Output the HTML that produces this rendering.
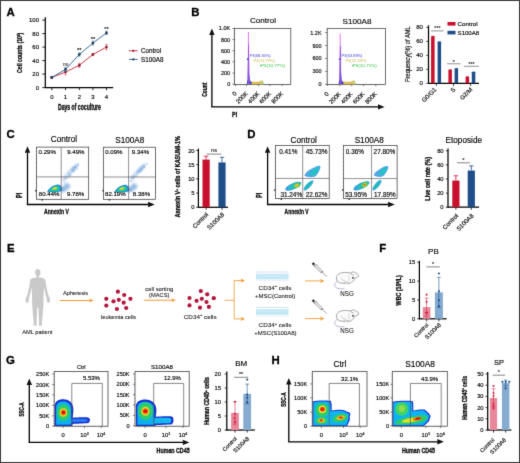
<!DOCTYPE html>
<html><head><meta charset="utf-8"><title>Figure</title>
<style>html,body{margin:0;padding:0;background:#fff;width:520px;height:463px;overflow:hidden}svg{display:block}text{font-family:"Liberation Sans",sans-serif}</style>
</head><body>
<svg width="520" height="463" viewBox="0 0 520 463" font-family="Liberation Sans, sans-serif"><defs><filter id="gblur" x="0" y="0" width="520" height="463" filterUnits="userSpaceOnUse" color-interpolation-filters="sRGB"><feConvolveMatrix order="3" kernelMatrix="1 8 1 8 64 8 1 8 1" edgeMode="duplicate" preserveAlpha="true"/></filter></defs><g filter="url(#gblur)"><rect x="0" y="0" width="520" height="463" fill="#fff"/><defs><filter id="bl1" x="-50%" y="-50%" width="200%" height="200%"><feGaussianBlur stdDeviation="1.2"/></filter><filter id="bl2" x="-50%" y="-50%" width="200%" height="200%"><feGaussianBlur stdDeviation="0.7"/></filter><filter id="bl3" x="-50%" y="-50%" width="200%" height="200%"><feGaussianBlur stdDeviation="0.9"/></filter><filter id="bl4" x="-50%" y="-50%" width="200%" height="200%"><feGaussianBlur stdDeviation="0.45"/></filter></defs>
<text x="6.60" y="15.60" font-size="11.4" text-anchor="start" font-weight="bold" fill="#000" stroke="#000" stroke-width="0.30" >A</text>
<text x="191.30" y="16.10" font-size="11.4" text-anchor="start" font-weight="bold" fill="#000" stroke="#000" stroke-width="0.30" >B</text>
<text x="6.40" y="137.70" font-size="11.4" text-anchor="start" font-weight="bold" fill="#000" stroke="#000" stroke-width="0.30" >C</text>
<text x="247.20" y="137.60" font-size="11.4" text-anchor="start" font-weight="bold" fill="#000" stroke="#000" stroke-width="0.30" >D</text>
<text x="7.10" y="252.00" font-size="11.4" text-anchor="start" font-weight="bold" fill="#000" stroke="#000" stroke-width="0.30" >E</text>
<text x="379.30" y="252.00" font-size="11.4" text-anchor="start" font-weight="bold" fill="#000" stroke="#000" stroke-width="0.30" >F</text>
<text x="6.10" y="363.90" font-size="11.4" text-anchor="start" font-weight="bold" fill="#000" stroke="#000" stroke-width="0.30" >G</text>
<text x="271.60" y="363.50" font-size="11.4" text-anchor="start" font-weight="bold" fill="#000" stroke="#000" stroke-width="0.30" >H</text>
<line x1="45.30" y1="17.20" x2="45.30" y2="88.10" stroke="#000" stroke-width="1.25" />
<line x1="44.80" y1="87.60" x2="113.20" y2="87.60" stroke="#000" stroke-width="1.25" />
<line x1="42.30" y1="87.60" x2="45.30" y2="87.60" stroke="#111" stroke-width="0.9" />
<text x="39.00" y="89.70" font-size="6.0" text-anchor="end" fill="#0a0a0a" stroke="#0a0a0a" stroke-width="0.16" >0</text>
<line x1="42.30" y1="74.10" x2="45.30" y2="74.10" stroke="#111" stroke-width="0.9" />
<text x="39.00" y="76.20" font-size="6.0" text-anchor="end" fill="#0a0a0a" stroke="#0a0a0a" stroke-width="0.16" >20</text>
<line x1="42.30" y1="60.60" x2="45.30" y2="60.60" stroke="#111" stroke-width="0.9" />
<text x="39.00" y="62.70" font-size="6.0" text-anchor="end" fill="#0a0a0a" stroke="#0a0a0a" stroke-width="0.16" >40</text>
<line x1="42.30" y1="47.10" x2="45.30" y2="47.10" stroke="#111" stroke-width="0.9" />
<text x="39.00" y="49.20" font-size="6.0" text-anchor="end" fill="#0a0a0a" stroke="#0a0a0a" stroke-width="0.16" >60</text>
<line x1="42.30" y1="33.60" x2="45.30" y2="33.60" stroke="#111" stroke-width="0.9" />
<text x="39.00" y="35.70" font-size="6.0" text-anchor="end" fill="#0a0a0a" stroke="#0a0a0a" stroke-width="0.16" >80</text>
<line x1="42.30" y1="20.10" x2="45.30" y2="20.10" stroke="#111" stroke-width="0.9" />
<text x="39.00" y="22.20" font-size="6.0" text-anchor="end" fill="#0a0a0a" stroke="#0a0a0a" stroke-width="0.16" >100</text>
<line x1="51.80" y1="87.60" x2="51.80" y2="90.20" stroke="#111" stroke-width="0.9" />
<text x="51.80" y="99.10" font-size="6.0" text-anchor="middle" fill="#0a0a0a" stroke="#0a0a0a" stroke-width="0.16" >0</text>
<line x1="65.50" y1="87.60" x2="65.50" y2="90.20" stroke="#111" stroke-width="0.9" />
<text x="65.50" y="99.10" font-size="6.0" text-anchor="middle" fill="#0a0a0a" stroke="#0a0a0a" stroke-width="0.16" >1</text>
<line x1="79.30" y1="87.60" x2="79.30" y2="90.20" stroke="#111" stroke-width="0.9" />
<text x="79.30" y="99.10" font-size="6.0" text-anchor="middle" fill="#0a0a0a" stroke="#0a0a0a" stroke-width="0.16" >2</text>
<line x1="92.90" y1="87.60" x2="92.90" y2="90.20" stroke="#111" stroke-width="0.9" />
<text x="92.90" y="99.10" font-size="6.0" text-anchor="middle" fill="#0a0a0a" stroke="#0a0a0a" stroke-width="0.16" >3</text>
<line x1="106.50" y1="87.60" x2="106.50" y2="90.20" stroke="#111" stroke-width="0.9" />
<text x="106.50" y="99.10" font-size="6.0" text-anchor="middle" fill="#0a0a0a" stroke="#0a0a0a" stroke-width="0.16" >4</text>
<text x="0.00" y="0.00" font-size="8.2" text-anchor="middle" font-weight="bold" fill="#0a0a0a" stroke="#0a0a0a" stroke-width="0.32" transform="translate(79.40 110.10) scale(0.625 1)" >Days of coculture</text>
<text x="0.00" y="0.00" font-size="7.4" text-anchor="middle" font-weight="bold" fill="#0a0a0a" stroke="#0a0a0a" stroke-width="0.32" transform="translate(22.30 52.80) rotate(-90) scale(0.701 1)" >Cell counts (10<tspan font-size="4.2" dy="-2.6">5</tspan><tspan dy="2.6">)</tspan></text>
<polyline points="51.80,77.47 65.50,72.07 79.30,65.32 92.90,54.52 106.50,47.10" fill="none" stroke="#d2394d" stroke-width="1.0"/>
<line x1="51.80" y1="76.80" x2="51.80" y2="78.15" stroke="#d2394d" stroke-width="0.6" />
<line x1="50.60" y1="76.80" x2="53.00" y2="76.80" stroke="#d2394d" stroke-width="0.6" />
<line x1="50.60" y1="78.15" x2="53.00" y2="78.15" stroke="#d2394d" stroke-width="0.6" />
<circle cx="51.80" cy="77.47" r="1.35" fill="#8c1a2b" />
<line x1="65.50" y1="69.37" x2="65.50" y2="74.77" stroke="#d2394d" stroke-width="0.6" />
<line x1="64.30" y1="69.37" x2="66.70" y2="69.37" stroke="#d2394d" stroke-width="0.6" />
<line x1="64.30" y1="74.77" x2="66.70" y2="74.77" stroke="#d2394d" stroke-width="0.6" />
<circle cx="65.50" cy="72.07" r="1.35" fill="#8c1a2b" />
<line x1="79.30" y1="63.30" x2="79.30" y2="67.35" stroke="#d2394d" stroke-width="0.6" />
<line x1="78.10" y1="63.30" x2="80.50" y2="63.30" stroke="#d2394d" stroke-width="0.6" />
<line x1="78.10" y1="67.35" x2="80.50" y2="67.35" stroke="#d2394d" stroke-width="0.6" />
<circle cx="79.30" cy="65.32" r="1.35" fill="#8c1a2b" />
<line x1="92.90" y1="53.51" x2="92.90" y2="55.54" stroke="#d2394d" stroke-width="0.6" />
<line x1="91.70" y1="53.51" x2="94.10" y2="53.51" stroke="#d2394d" stroke-width="0.6" />
<line x1="91.70" y1="55.54" x2="94.10" y2="55.54" stroke="#d2394d" stroke-width="0.6" />
<circle cx="92.90" cy="54.52" r="1.35" fill="#8c1a2b" />
<line x1="106.50" y1="44.40" x2="106.50" y2="49.80" stroke="#d2394d" stroke-width="0.6" />
<line x1="105.30" y1="44.40" x2="107.70" y2="44.40" stroke="#d2394d" stroke-width="0.6" />
<line x1="105.30" y1="49.80" x2="107.70" y2="49.80" stroke="#d2394d" stroke-width="0.6" />
<circle cx="106.50" cy="47.10" r="1.35" fill="#8c1a2b" />
<polyline points="51.80,77.47 65.50,69.38 79.30,54.52 92.90,43.05 106.50,32.92" fill="none" stroke="#3b6e99" stroke-width="1.0"/>
<line x1="51.80" y1="76.80" x2="51.80" y2="78.15" stroke="#3b6e99" stroke-width="0.6" />
<line x1="50.60" y1="76.80" x2="53.00" y2="76.80" stroke="#3b6e99" stroke-width="0.6" />
<line x1="50.60" y1="78.15" x2="53.00" y2="78.15" stroke="#3b6e99" stroke-width="0.6" />
<circle cx="51.80" cy="77.47" r="1.35" fill="#1d3b58" />
<line x1="65.50" y1="67.35" x2="65.50" y2="71.40" stroke="#3b6e99" stroke-width="0.6" />
<line x1="64.30" y1="67.35" x2="66.70" y2="67.35" stroke="#3b6e99" stroke-width="0.6" />
<line x1="64.30" y1="71.40" x2="66.70" y2="71.40" stroke="#3b6e99" stroke-width="0.6" />
<circle cx="65.50" cy="69.38" r="1.35" fill="#1d3b58" />
<line x1="79.30" y1="52.84" x2="79.30" y2="56.21" stroke="#3b6e99" stroke-width="0.6" />
<line x1="78.10" y1="52.84" x2="80.50" y2="52.84" stroke="#3b6e99" stroke-width="0.6" />
<line x1="78.10" y1="56.21" x2="80.50" y2="56.21" stroke="#3b6e99" stroke-width="0.6" />
<circle cx="79.30" cy="54.52" r="1.35" fill="#1d3b58" />
<line x1="92.90" y1="41.02" x2="92.90" y2="45.07" stroke="#3b6e99" stroke-width="0.6" />
<line x1="91.70" y1="41.02" x2="94.10" y2="41.02" stroke="#3b6e99" stroke-width="0.6" />
<line x1="91.70" y1="45.07" x2="94.10" y2="45.07" stroke="#3b6e99" stroke-width="0.6" />
<circle cx="92.90" cy="43.05" r="1.35" fill="#1d3b58" />
<line x1="106.50" y1="31.24" x2="106.50" y2="34.61" stroke="#3b6e99" stroke-width="0.6" />
<line x1="105.30" y1="31.24" x2="107.70" y2="31.24" stroke="#3b6e99" stroke-width="0.6" />
<line x1="105.30" y1="34.61" x2="107.70" y2="34.61" stroke="#3b6e99" stroke-width="0.6" />
<circle cx="106.50" cy="32.92" r="1.35" fill="#1d3b58" />
<text x="65.50" y="66.00" font-size="5.4" text-anchor="middle" fill="#555" stroke="#555" stroke-width="0.16" >ns</text>
<text x="79.30" y="52.20" font-size="5.8" text-anchor="middle" fill="#222" stroke="#222" stroke-width="0.16" >**</text>
<text x="92.90" y="41.40" font-size="5.8" text-anchor="middle" fill="#222" stroke="#222" stroke-width="0.16" >**</text>
<text x="106.50" y="31.20" font-size="5.8" text-anchor="middle" fill="#222" stroke="#222" stroke-width="0.16" >**</text>
<line x1="129.00" y1="50.80" x2="137.70" y2="50.80" stroke="#d2394d" stroke-width="1.0" />
<circle cx="133.30" cy="50.80" r="1.1" fill="#8c1a2b" />
<line x1="129.00" y1="59.40" x2="137.70" y2="59.40" stroke="#3b6e99" stroke-width="1.0" />
<circle cx="133.30" cy="59.40" r="1.1" fill="#1d3b58" />
<text x="0.00" y="0.00" font-size="6.8" text-anchor="start" fill="#0a0a0a" stroke="#0a0a0a" stroke-width="0.16" transform="translate(141.00 53.20) scale(0.922 1)" >Control</text>
<text x="0.00" y="0.00" font-size="6.8" text-anchor="start" fill="#0a0a0a" stroke="#0a0a0a" stroke-width="0.16" transform="translate(141.00 61.80) scale(0.926 1)" >S100A8</text>
<rect x="234.60" y="28.40" width="56.20" height="56.00" fill="none" stroke="#333" stroke-width="0.7" />
<text x="263.00" y="23.30" font-size="8.1" text-anchor="middle" fill="#0a0a0a" stroke="#0a0a0a" stroke-width="0.16" >Control</text>
<line x1="232.40" y1="84.20" x2="234.60" y2="84.20" stroke="#333" stroke-width="0.6" />
<text x="230.20" y="86.20" font-size="5.5" text-anchor="end" fill="#0a0a0a" stroke="#0a0a0a" stroke-width="0.16" >0</text>
<line x1="232.40" y1="73.05" x2="234.60" y2="73.05" stroke="#333" stroke-width="0.6" />
<text x="230.20" y="75.05" font-size="5.5" text-anchor="end" fill="#0a0a0a" stroke="#0a0a0a" stroke-width="0.16" >200</text>
<line x1="232.40" y1="61.90" x2="234.60" y2="61.90" stroke="#333" stroke-width="0.6" />
<text x="230.20" y="63.90" font-size="5.5" text-anchor="end" fill="#0a0a0a" stroke="#0a0a0a" stroke-width="0.16" >400</text>
<line x1="232.40" y1="50.75" x2="234.60" y2="50.75" stroke="#333" stroke-width="0.6" />
<text x="230.20" y="52.75" font-size="5.5" text-anchor="end" fill="#0a0a0a" stroke="#0a0a0a" stroke-width="0.16" >600</text>
<line x1="232.40" y1="39.60" x2="234.60" y2="39.60" stroke="#333" stroke-width="0.6" />
<text x="230.20" y="41.60" font-size="5.5" text-anchor="end" fill="#0a0a0a" stroke="#0a0a0a" stroke-width="0.16" >800</text>
<line x1="232.40" y1="28.45" x2="234.60" y2="28.45" stroke="#333" stroke-width="0.6" />
<text x="230.20" y="30.45" font-size="5.5" text-anchor="end" fill="#0a0a0a" stroke="#0a0a0a" stroke-width="0.16" >1.0K</text>
<line x1="233.50" y1="84.20" x2="234.60" y2="84.20" stroke="#555" stroke-width="0.35" />
<line x1="233.50" y1="81.97" x2="234.60" y2="81.97" stroke="#555" stroke-width="0.35" />
<line x1="233.50" y1="79.74" x2="234.60" y2="79.74" stroke="#555" stroke-width="0.35" />
<line x1="233.50" y1="77.51" x2="234.60" y2="77.51" stroke="#555" stroke-width="0.35" />
<line x1="233.50" y1="75.28" x2="234.60" y2="75.28" stroke="#555" stroke-width="0.35" />
<line x1="233.50" y1="73.05" x2="234.60" y2="73.05" stroke="#555" stroke-width="0.35" />
<line x1="233.50" y1="70.82" x2="234.60" y2="70.82" stroke="#555" stroke-width="0.35" />
<line x1="233.50" y1="68.59" x2="234.60" y2="68.59" stroke="#555" stroke-width="0.35" />
<line x1="233.50" y1="66.36" x2="234.60" y2="66.36" stroke="#555" stroke-width="0.35" />
<line x1="233.50" y1="64.13" x2="234.60" y2="64.13" stroke="#555" stroke-width="0.35" />
<line x1="233.50" y1="61.90" x2="234.60" y2="61.90" stroke="#555" stroke-width="0.35" />
<line x1="233.50" y1="59.67" x2="234.60" y2="59.67" stroke="#555" stroke-width="0.35" />
<line x1="233.50" y1="57.44" x2="234.60" y2="57.44" stroke="#555" stroke-width="0.35" />
<line x1="233.50" y1="55.21" x2="234.60" y2="55.21" stroke="#555" stroke-width="0.35" />
<line x1="233.50" y1="52.98" x2="234.60" y2="52.98" stroke="#555" stroke-width="0.35" />
<line x1="233.50" y1="50.75" x2="234.60" y2="50.75" stroke="#555" stroke-width="0.35" />
<line x1="233.50" y1="48.52" x2="234.60" y2="48.52" stroke="#555" stroke-width="0.35" />
<line x1="233.50" y1="46.29" x2="234.60" y2="46.29" stroke="#555" stroke-width="0.35" />
<line x1="233.50" y1="44.06" x2="234.60" y2="44.06" stroke="#555" stroke-width="0.35" />
<line x1="233.50" y1="41.83" x2="234.60" y2="41.83" stroke="#555" stroke-width="0.35" />
<line x1="233.50" y1="39.60" x2="234.60" y2="39.60" stroke="#555" stroke-width="0.35" />
<line x1="233.50" y1="37.37" x2="234.60" y2="37.37" stroke="#555" stroke-width="0.35" />
<line x1="233.50" y1="35.14" x2="234.60" y2="35.14" stroke="#555" stroke-width="0.35" />
<line x1="233.50" y1="32.91" x2="234.60" y2="32.91" stroke="#555" stroke-width="0.35" />
<line x1="233.50" y1="30.68" x2="234.60" y2="30.68" stroke="#555" stroke-width="0.35" />
<line x1="233.50" y1="28.45" x2="234.60" y2="28.45" stroke="#555" stroke-width="0.35" />
<line x1="235.60" y1="84.40" x2="235.60" y2="86.20" stroke="#333" stroke-width="0.6" />
<text x="0.00" y="0.00" font-size="6.0" text-anchor="end" fill="#0a0a0a" stroke="#0a0a0a" stroke-width="0.16" transform="translate(237.20 94.00) rotate(-45)" >0</text>
<line x1="246.70" y1="84.40" x2="246.70" y2="86.20" stroke="#333" stroke-width="0.6" />
<text x="0.00" y="0.00" font-size="6.0" text-anchor="end" fill="#0a0a0a" stroke="#0a0a0a" stroke-width="0.16" transform="translate(248.30 94.00) rotate(-45)" >200K</text>
<line x1="258.60" y1="84.40" x2="258.60" y2="86.20" stroke="#333" stroke-width="0.6" />
<text x="0.00" y="0.00" font-size="6.0" text-anchor="end" fill="#0a0a0a" stroke="#0a0a0a" stroke-width="0.16" transform="translate(260.20 94.00) rotate(-45)" >400K</text>
<line x1="270.00" y1="84.40" x2="270.00" y2="86.20" stroke="#333" stroke-width="0.6" />
<text x="0.00" y="0.00" font-size="6.0" text-anchor="end" fill="#0a0a0a" stroke="#0a0a0a" stroke-width="0.16" transform="translate(271.60 94.00) rotate(-45)" >600K</text>
<line x1="282.00" y1="84.40" x2="282.00" y2="86.20" stroke="#333" stroke-width="0.6" />
<text x="0.00" y="0.00" font-size="6.0" text-anchor="end" fill="#0a0a0a" stroke="#0a0a0a" stroke-width="0.16" transform="translate(283.60 94.00) rotate(-45)" >800K</text>
<line x1="234.60" y1="84.40" x2="234.60" y2="85.30" stroke="#555" stroke-width="0.35" />
<line x1="236.55" y1="84.40" x2="236.55" y2="85.30" stroke="#555" stroke-width="0.35" />
<line x1="238.50" y1="84.40" x2="238.50" y2="85.30" stroke="#555" stroke-width="0.35" />
<line x1="240.45" y1="84.40" x2="240.45" y2="85.30" stroke="#555" stroke-width="0.35" />
<line x1="242.40" y1="84.40" x2="242.40" y2="85.30" stroke="#555" stroke-width="0.35" />
<line x1="244.35" y1="84.40" x2="244.35" y2="85.30" stroke="#555" stroke-width="0.35" />
<line x1="246.30" y1="84.40" x2="246.30" y2="85.30" stroke="#555" stroke-width="0.35" />
<line x1="248.25" y1="84.40" x2="248.25" y2="85.30" stroke="#555" stroke-width="0.35" />
<line x1="250.20" y1="84.40" x2="250.20" y2="85.30" stroke="#555" stroke-width="0.35" />
<line x1="252.15" y1="84.40" x2="252.15" y2="85.30" stroke="#555" stroke-width="0.35" />
<line x1="254.10" y1="84.40" x2="254.10" y2="85.30" stroke="#555" stroke-width="0.35" />
<line x1="256.05" y1="84.40" x2="256.05" y2="85.30" stroke="#555" stroke-width="0.35" />
<line x1="258.00" y1="84.40" x2="258.00" y2="85.30" stroke="#555" stroke-width="0.35" />
<line x1="259.95" y1="84.40" x2="259.95" y2="85.30" stroke="#555" stroke-width="0.35" />
<line x1="261.90" y1="84.40" x2="261.90" y2="85.30" stroke="#555" stroke-width="0.35" />
<line x1="263.85" y1="84.40" x2="263.85" y2="85.30" stroke="#555" stroke-width="0.35" />
<line x1="265.80" y1="84.40" x2="265.80" y2="85.30" stroke="#555" stroke-width="0.35" />
<line x1="267.75" y1="84.40" x2="267.75" y2="85.30" stroke="#555" stroke-width="0.35" />
<line x1="269.70" y1="84.40" x2="269.70" y2="85.30" stroke="#555" stroke-width="0.35" />
<line x1="271.65" y1="84.40" x2="271.65" y2="85.30" stroke="#555" stroke-width="0.35" />
<line x1="273.60" y1="84.40" x2="273.60" y2="85.30" stroke="#555" stroke-width="0.35" />
<line x1="275.55" y1="84.40" x2="275.55" y2="85.30" stroke="#555" stroke-width="0.35" />
<line x1="277.50" y1="84.40" x2="277.50" y2="85.30" stroke="#555" stroke-width="0.35" />
<line x1="279.45" y1="84.40" x2="279.45" y2="85.30" stroke="#555" stroke-width="0.35" />
<line x1="281.40" y1="84.40" x2="281.40" y2="85.30" stroke="#555" stroke-width="0.35" />
<line x1="283.35" y1="84.40" x2="283.35" y2="85.30" stroke="#555" stroke-width="0.35" />
<line x1="285.30" y1="84.40" x2="285.30" y2="85.30" stroke="#555" stroke-width="0.35" />
<line x1="287.25" y1="84.40" x2="287.25" y2="85.30" stroke="#555" stroke-width="0.35" />
<line x1="289.20" y1="84.40" x2="289.20" y2="85.30" stroke="#555" stroke-width="0.35" />
<rect x="327.20" y="28.40" width="58.20" height="56.00" fill="none" stroke="#333" stroke-width="0.7" />
<text x="357.00" y="23.50" font-size="8.1" text-anchor="middle" fill="#0a0a0a" stroke="#0a0a0a" stroke-width="0.16" >S100A8</text>
<line x1="325.00" y1="84.20" x2="327.20" y2="84.20" stroke="#333" stroke-width="0.6" />
<text x="321.60" y="86.20" font-size="5.5" text-anchor="end" fill="#0a0a0a" stroke="#0a0a0a" stroke-width="0.16" >0</text>
<line x1="325.00" y1="71.30" x2="327.20" y2="71.30" stroke="#333" stroke-width="0.6" />
<text x="321.60" y="73.30" font-size="5.5" text-anchor="end" fill="#0a0a0a" stroke="#0a0a0a" stroke-width="0.16" >300</text>
<line x1="325.00" y1="58.40" x2="327.20" y2="58.40" stroke="#333" stroke-width="0.6" />
<text x="321.60" y="60.40" font-size="5.5" text-anchor="end" fill="#0a0a0a" stroke="#0a0a0a" stroke-width="0.16" >600</text>
<line x1="325.00" y1="45.50" x2="327.20" y2="45.50" stroke="#333" stroke-width="0.6" />
<text x="321.60" y="47.50" font-size="5.5" text-anchor="end" fill="#0a0a0a" stroke="#0a0a0a" stroke-width="0.16" >900</text>
<line x1="325.00" y1="32.60" x2="327.20" y2="32.60" stroke="#333" stroke-width="0.6" />
<text x="321.60" y="34.60" font-size="5.5" text-anchor="end" fill="#0a0a0a" stroke="#0a0a0a" stroke-width="0.16" >1.2K</text>
<line x1="326.10" y1="84.20" x2="327.20" y2="84.20" stroke="#555" stroke-width="0.35" />
<line x1="326.10" y1="81.62" x2="327.20" y2="81.62" stroke="#555" stroke-width="0.35" />
<line x1="326.10" y1="79.04" x2="327.20" y2="79.04" stroke="#555" stroke-width="0.35" />
<line x1="326.10" y1="76.46" x2="327.20" y2="76.46" stroke="#555" stroke-width="0.35" />
<line x1="326.10" y1="73.88" x2="327.20" y2="73.88" stroke="#555" stroke-width="0.35" />
<line x1="326.10" y1="71.30" x2="327.20" y2="71.30" stroke="#555" stroke-width="0.35" />
<line x1="326.10" y1="68.72" x2="327.20" y2="68.72" stroke="#555" stroke-width="0.35" />
<line x1="326.10" y1="66.14" x2="327.20" y2="66.14" stroke="#555" stroke-width="0.35" />
<line x1="326.10" y1="63.56" x2="327.20" y2="63.56" stroke="#555" stroke-width="0.35" />
<line x1="326.10" y1="60.98" x2="327.20" y2="60.98" stroke="#555" stroke-width="0.35" />
<line x1="326.10" y1="58.40" x2="327.20" y2="58.40" stroke="#555" stroke-width="0.35" />
<line x1="326.10" y1="55.82" x2="327.20" y2="55.82" stroke="#555" stroke-width="0.35" />
<line x1="326.10" y1="53.24" x2="327.20" y2="53.24" stroke="#555" stroke-width="0.35" />
<line x1="326.10" y1="50.66" x2="327.20" y2="50.66" stroke="#555" stroke-width="0.35" />
<line x1="326.10" y1="48.08" x2="327.20" y2="48.08" stroke="#555" stroke-width="0.35" />
<line x1="326.10" y1="45.50" x2="327.20" y2="45.50" stroke="#555" stroke-width="0.35" />
<line x1="326.10" y1="42.92" x2="327.20" y2="42.92" stroke="#555" stroke-width="0.35" />
<line x1="326.10" y1="40.34" x2="327.20" y2="40.34" stroke="#555" stroke-width="0.35" />
<line x1="326.10" y1="37.76" x2="327.20" y2="37.76" stroke="#555" stroke-width="0.35" />
<line x1="326.10" y1="35.18" x2="327.20" y2="35.18" stroke="#555" stroke-width="0.35" />
<line x1="326.10" y1="32.60" x2="327.20" y2="32.60" stroke="#555" stroke-width="0.35" />
<line x1="326.10" y1="30.02" x2="327.20" y2="30.02" stroke="#555" stroke-width="0.35" />
<line x1="327.40" y1="84.40" x2="327.40" y2="86.20" stroke="#333" stroke-width="0.6" />
<text x="0.00" y="0.00" font-size="6.0" text-anchor="end" fill="#0a0a0a" stroke="#0a0a0a" stroke-width="0.16" transform="translate(329.00 94.40) rotate(-45)" >0</text>
<line x1="339.80" y1="84.40" x2="339.80" y2="86.20" stroke="#333" stroke-width="0.6" />
<text x="0.00" y="0.00" font-size="6.0" text-anchor="end" fill="#0a0a0a" stroke="#0a0a0a" stroke-width="0.16" transform="translate(341.40 94.40) rotate(-45)" >200K</text>
<line x1="351.60" y1="84.40" x2="351.60" y2="86.20" stroke="#333" stroke-width="0.6" />
<text x="0.00" y="0.00" font-size="6.0" text-anchor="end" fill="#0a0a0a" stroke="#0a0a0a" stroke-width="0.16" transform="translate(353.20 94.40) rotate(-45)" >400K</text>
<line x1="363.60" y1="84.40" x2="363.60" y2="86.20" stroke="#333" stroke-width="0.6" />
<text x="0.00" y="0.00" font-size="6.0" text-anchor="end" fill="#0a0a0a" stroke="#0a0a0a" stroke-width="0.16" transform="translate(365.20 94.40) rotate(-45)" >600K</text>
<line x1="375.80" y1="84.40" x2="375.80" y2="86.20" stroke="#333" stroke-width="0.6" />
<text x="0.00" y="0.00" font-size="6.0" text-anchor="end" fill="#0a0a0a" stroke="#0a0a0a" stroke-width="0.16" transform="translate(377.40 94.40) rotate(-45)" >800K</text>
<line x1="327.20" y1="84.40" x2="327.20" y2="85.30" stroke="#555" stroke-width="0.35" />
<line x1="329.15" y1="84.40" x2="329.15" y2="85.30" stroke="#555" stroke-width="0.35" />
<line x1="331.10" y1="84.40" x2="331.10" y2="85.30" stroke="#555" stroke-width="0.35" />
<line x1="333.05" y1="84.40" x2="333.05" y2="85.30" stroke="#555" stroke-width="0.35" />
<line x1="335.00" y1="84.40" x2="335.00" y2="85.30" stroke="#555" stroke-width="0.35" />
<line x1="336.95" y1="84.40" x2="336.95" y2="85.30" stroke="#555" stroke-width="0.35" />
<line x1="338.90" y1="84.40" x2="338.90" y2="85.30" stroke="#555" stroke-width="0.35" />
<line x1="340.85" y1="84.40" x2="340.85" y2="85.30" stroke="#555" stroke-width="0.35" />
<line x1="342.80" y1="84.40" x2="342.80" y2="85.30" stroke="#555" stroke-width="0.35" />
<line x1="344.75" y1="84.40" x2="344.75" y2="85.30" stroke="#555" stroke-width="0.35" />
<line x1="346.70" y1="84.40" x2="346.70" y2="85.30" stroke="#555" stroke-width="0.35" />
<line x1="348.65" y1="84.40" x2="348.65" y2="85.30" stroke="#555" stroke-width="0.35" />
<line x1="350.60" y1="84.40" x2="350.60" y2="85.30" stroke="#555" stroke-width="0.35" />
<line x1="352.55" y1="84.40" x2="352.55" y2="85.30" stroke="#555" stroke-width="0.35" />
<line x1="354.50" y1="84.40" x2="354.50" y2="85.30" stroke="#555" stroke-width="0.35" />
<line x1="356.45" y1="84.40" x2="356.45" y2="85.30" stroke="#555" stroke-width="0.35" />
<line x1="358.40" y1="84.40" x2="358.40" y2="85.30" stroke="#555" stroke-width="0.35" />
<line x1="360.35" y1="84.40" x2="360.35" y2="85.30" stroke="#555" stroke-width="0.35" />
<line x1="362.30" y1="84.40" x2="362.30" y2="85.30" stroke="#555" stroke-width="0.35" />
<line x1="364.25" y1="84.40" x2="364.25" y2="85.30" stroke="#555" stroke-width="0.35" />
<line x1="366.20" y1="84.40" x2="366.20" y2="85.30" stroke="#555" stroke-width="0.35" />
<line x1="368.15" y1="84.40" x2="368.15" y2="85.30" stroke="#555" stroke-width="0.35" />
<line x1="370.10" y1="84.40" x2="370.10" y2="85.30" stroke="#555" stroke-width="0.35" />
<line x1="372.05" y1="84.40" x2="372.05" y2="85.30" stroke="#555" stroke-width="0.35" />
<line x1="374.00" y1="84.40" x2="374.00" y2="85.30" stroke="#555" stroke-width="0.35" />
<line x1="375.95" y1="84.40" x2="375.95" y2="85.30" stroke="#555" stroke-width="0.35" />
<line x1="377.90" y1="84.40" x2="377.90" y2="85.30" stroke="#555" stroke-width="0.35" />
<line x1="379.85" y1="84.40" x2="379.85" y2="85.30" stroke="#555" stroke-width="0.35" />
<line x1="381.80" y1="84.40" x2="381.80" y2="85.30" stroke="#555" stroke-width="0.35" />
<line x1="383.75" y1="84.40" x2="383.75" y2="85.30" stroke="#555" stroke-width="0.35" />
<path d="M247.20000000000002,84.2 L248.0,80.60000000000001 L250.4,81.4 L254.4,82.2 L258.4,82.0 L260.9,81.2 L262.4,80.60000000000001 L263.4,83.0 L263.9,84.2 Z" fill="#e4c458" stroke="#b89a30" stroke-width="0.4"/>
<path d="M261.0,84.2 L262.4,80.4 L263.6,84.2 Z" fill="#a8d890"/>
<path d="M246.8,84.2 L247.5,79.2 L247.9,58.5 L248.20000000000002,44.5 L248.9,44.5 L249.3,72.2 L250.0,80.2 L251.4,82.60000000000001 L251.9,84.2 Z" fill="#3c3cd8"/>
<line x1="248.40" y1="84.20" x2="248.40" y2="31.90" stroke="#d050e0" stroke-width="0.8" />
<line x1="249.30" y1="84.20" x2="249.30" y2="41.90" stroke="#c8b0f0" stroke-width="0.5" opacity="0.6"/>
<path d="M339.0,84.2 L339.8,80.60000000000001 L342.2,81.4 L346.2,82.2 L350.2,82.0 L352.7,81.2 L354.2,80.60000000000001 L355.2,83.0 L355.7,84.2 Z" fill="#e4c458" stroke="#b89a30" stroke-width="0.4"/>
<path d="M352.8,84.2 L354.2,80.4 L355.4,84.2 Z" fill="#a8d890"/>
<path d="M338.59999999999997,84.2 L339.3,79.2 L339.7,60 L340.0,46 L340.7,46 L341.09999999999997,72.2 L341.8,80.2 L343.2,82.60000000000001 L343.7,84.2 Z" fill="#3c3cd8"/>
<line x1="340.20" y1="84.20" x2="340.20" y2="33.80" stroke="#d050e0" stroke-width="0.8" />
<line x1="341.10" y1="84.20" x2="341.10" y2="43.80" stroke="#c8b0f0" stroke-width="0.5" opacity="0.6"/>
<circle cx="247.80" cy="59.20" r="0.9" fill="#4a4ae0" />
<text x="0.00" y="0.00" font-size="4.2" text-anchor="start" fill="#3a3ae0" stroke="#3a3ae0" stroke-width="0.00" transform="translate(249.70 57.20) scale(0.947 1)" >P3(68.55%)</text>
<text x="0.00" y="0.00" font-size="4.2" text-anchor="start" fill="#c8b848" stroke="#c8b848" stroke-width="0.00" transform="translate(253.60 61.90) scale(0.970 1)" >P4(11.79%)</text>
<circle cx="260.60" cy="65.60" r="0.7" fill="#40c040" />
<text x="0.00" y="0.00" font-size="4.2" text-anchor="start" fill="#30c040" stroke="#30c040" stroke-width="0.00" transform="translate(261.00 66.60) scale(1.082 1)" >P5(10.77%)</text>
<circle cx="339.60" cy="59.20" r="0.9" fill="#4a4ae0" />
<text x="0.00" y="0.00" font-size="4.2" text-anchor="start" fill="#3a3ae0" stroke="#3a3ae0" stroke-width="0.00" transform="translate(341.50 57.20) scale(0.947 1)" >P3(63.89%)</text>
<text x="0.00" y="0.00" font-size="4.2" text-anchor="start" fill="#c8b848" stroke="#c8b848" stroke-width="0.00" transform="translate(345.40 61.90) scale(0.956 1)" >P4(22.18%)</text>
<circle cx="352.40" cy="65.60" r="0.7" fill="#40c040" />
<text x="0.00" y="0.00" font-size="4.2" text-anchor="start" fill="#30c040" stroke="#30c040" stroke-width="0.00" transform="translate(352.80 66.60) scale(1.082 1)" >P5(10.71%)</text>
<text x="0.00" y="0.00" font-size="8.0" text-anchor="middle" font-weight="bold" fill="#0a0a0a" stroke="#0a0a0a" stroke-width="0.32" transform="translate(207.20 89.60) rotate(-90) scale(0.615 1)" >Count</text>
<text x="0.00" y="0.00" font-size="7.8" text-anchor="middle" font-weight="bold" fill="#0a0a0a" stroke="#0a0a0a" stroke-width="0.32" transform="translate(234.70 116.60) scale(0.706 1)" >PI</text>
<line x1="428.50" y1="25.30" x2="428.50" y2="83.80" stroke="#000" stroke-width="1.25" />
<line x1="428.00" y1="83.30" x2="479.00" y2="83.30" stroke="#000" stroke-width="1.25" />
<line x1="426.30" y1="83.30" x2="428.50" y2="83.30" stroke="#111" stroke-width="0.8" />
<text x="423.00" y="85.40" font-size="6.1" text-anchor="end" fill="#0a0a0a" stroke="#0a0a0a" stroke-width="0.16" >0</text>
<line x1="426.30" y1="69.32" x2="428.50" y2="69.32" stroke="#111" stroke-width="0.8" />
<text x="423.00" y="71.42" font-size="6.1" text-anchor="end" fill="#0a0a0a" stroke="#0a0a0a" stroke-width="0.16" >20</text>
<line x1="426.30" y1="55.34" x2="428.50" y2="55.34" stroke="#111" stroke-width="0.8" />
<text x="423.00" y="57.44" font-size="6.1" text-anchor="end" fill="#0a0a0a" stroke="#0a0a0a" stroke-width="0.16" >40</text>
<line x1="426.30" y1="41.36" x2="428.50" y2="41.36" stroke="#111" stroke-width="0.8" />
<text x="423.00" y="43.46" font-size="6.1" text-anchor="end" fill="#0a0a0a" stroke="#0a0a0a" stroke-width="0.16" >60</text>
<line x1="426.30" y1="27.38" x2="428.50" y2="27.38" stroke="#111" stroke-width="0.8" />
<text x="423.00" y="29.48" font-size="6.1" text-anchor="end" fill="#0a0a0a" stroke="#0a0a0a" stroke-width="0.16" >80</text>
<path d="M431.1,83.3 L431.1,36.568 Q431.1,35.768 432.85,35.768 Q434.6,35.768 434.6,36.568 L434.6,83.3 Z" fill="#c8102e"/>
<path d="M437.6,83.3 L437.6,42.16 Q437.6,41.36 439.35,41.36 Q441.1,41.36 441.1,42.16 L441.1,83.3 Z" fill="#1f4e89"/>
<path d="M448.4,83.3 L448.4,70.11999999999999 Q448.4,69.32 450.15,69.32 Q451.9,69.32 451.9,70.11999999999999 L451.9,83.3 Z" fill="#c8102e"/>
<path d="M454.6,83.3 L454.6,68.722 Q454.6,67.922 456.35,67.922 Q458.1,67.922 458.1,68.722 L458.1,83.3 Z" fill="#1f4e89"/>
<path d="M465.6,83.3 L465.6,77.11 Q465.6,76.31 467.35,76.31 Q469.1,76.31 469.1,77.11 L469.1,83.3 Z" fill="#c8102e"/>
<path d="M471.8,83.3 L471.8,72.217 Q471.8,71.417 473.55,71.417 Q475.3,71.417 475.3,72.217 L475.3,83.3 Z" fill="#1f4e89"/>
<line x1="431.10" y1="30.90" x2="443.60" y2="30.90" stroke="#444" stroke-width="0.6" />
<text x="437.40" y="30.40" font-size="5.2" text-anchor="middle" fill="#333" stroke="#333" stroke-width="0.16" >***</text>
<line x1="447.00" y1="63.80" x2="460.50" y2="63.80" stroke="#444" stroke-width="0.6" />
<text x="453.80" y="63.60" font-size="5.2" text-anchor="middle" fill="#333" stroke="#333" stroke-width="0.16" >*</text>
<line x1="464.00" y1="66.30" x2="479.00" y2="66.30" stroke="#444" stroke-width="0.6" />
<text x="471.50" y="66.10" font-size="5.2" text-anchor="middle" fill="#333" stroke="#333" stroke-width="0.16" >***</text>
<line x1="436.40" y1="83.30" x2="436.40" y2="85.90" stroke="#111" stroke-width="0.8" />
<line x1="453.50" y1="83.30" x2="453.50" y2="85.90" stroke="#111" stroke-width="0.8" />
<line x1="470.60" y1="83.30" x2="470.60" y2="85.90" stroke="#111" stroke-width="0.8" />
<text x="0.00" y="0.00" font-size="6.0" text-anchor="end" fill="#0a0a0a" stroke="#0a0a0a" stroke-width="0.16" transform="translate(436.80 90.00) rotate(-45)" >G0/G1</text>
<text x="0.00" y="0.00" font-size="6.0" text-anchor="end" fill="#0a0a0a" stroke="#0a0a0a" stroke-width="0.16" transform="translate(455.80 90.00) rotate(-45)" >S</text>
<text x="0.00" y="0.00" font-size="6.0" text-anchor="end" fill="#0a0a0a" stroke="#0a0a0a" stroke-width="0.16" transform="translate(472.80 90.00) rotate(-45)" >G2/M</text>
<rect x="447.50" y="22.00" width="8.00" height="3.60" fill="#c8102e" stroke="none" stroke-width="0.6" />
<text x="0.00" y="0.00" font-size="6.0" text-anchor="start" fill="#0a0a0a" stroke="#0a0a0a" stroke-width="0.16" transform="translate(457.60 26.00) scale(1.034 1)" >Control</text>
<rect x="447.50" y="30.80" width="8.00" height="3.60" fill="#1f4e89" stroke="none" stroke-width="0.6" />
<text x="0.00" y="0.00" font-size="6.0" text-anchor="start" fill="#0a0a0a" stroke="#0a0a0a" stroke-width="0.16" transform="translate(457.60 34.80) scale(1.012 1)" >S100A8</text>
<text x="0.00" y="0.00" font-size="6.6" text-anchor="middle" fill="#0a0a0a" stroke="#0a0a0a" stroke-width="0.16" transform="translate(409.70 54.10) rotate(-90) scale(0.877 1)" >Frequency(%) of AML</text>
<line x1="211.90" y1="34.60" x2="211.90" y2="106.90" stroke="#000" stroke-width="1.3" />
<line x1="211.25" y1="106.90" x2="378.50" y2="106.90" stroke="#000" stroke-width="1.3" />
<path d="M211.9,28.5 L209.20000000000002,35.1 L214.6,35.1 Z" fill="#111"/>
<path d="M384.6,106.9 L378.0,104.2 L378.0,109.60000000000001 Z" fill="#111"/>
<g filter="url(#bl3)"><ellipse cx="70.40" cy="172.05" rx="11.14" ry="2.2" transform="rotate(-44.1 70.40 172.05)" fill="#b8d2ee" opacity="0.75"/><ellipse cx="74.15" cy="168.05" rx="5.3" ry="1.6" transform="rotate(-45.0 74.15 168.05)" fill="#80acdc" opacity="0.8"/><ellipse cx="65.40" cy="179.30" rx="4.03" ry="1.0" transform="rotate(-60.3 65.40 179.30)" fill="#c0d6f0" opacity="0.7"/><ellipse cx="64.40" cy="188.30" rx="5.0" ry="3.0" transform="rotate(-25 64.40 188.30)" fill="#9cc0e8" opacity="0.85"/><ellipse cx="67.40" cy="185.80" rx="2.6" ry="3.0" transform="rotate(-45 67.40 185.80)" fill="#8cb4e2" opacity="0.75"/><ellipse cx="62.90" cy="189.80" rx="2.4" ry="1.6" transform="rotate(-10 62.90 189.80)" fill="#6a9edc" opacity="0.85"/></g>
<g filter="url(#bl4)"><circle cx="77.4" cy="169.2" r="0.75" fill="#6a9ad8" opacity="0.35"/><circle cx="65.1" cy="177.4" r="0.48" fill="#6a9ad8" opacity="0.57"/><circle cx="74.8" cy="167.2" r="0.69" fill="#6a9ad8" opacity="0.60"/><circle cx="75.2" cy="168.5" r="0.46" fill="#6a9ad8" opacity="0.53"/><circle cx="65.3" cy="178.4" r="0.73" fill="#6a9ad8" opacity="0.43"/><circle cx="78.2" cy="164.5" r="0.76" fill="#6a9ad8" opacity="0.52"/><circle cx="68.4" cy="173.0" r="0.79" fill="#6a9ad8" opacity="0.48"/><circle cx="63.9" cy="179.0" r="0.52" fill="#6a9ad8" opacity="0.55"/><circle cx="74.2" cy="170.1" r="0.80" fill="#6a9ad8" opacity="0.36"/><circle cx="72.8" cy="170.1" r="0.52" fill="#6a9ad8" opacity="0.48"/><circle cx="67.7" cy="177.9" r="0.76" fill="#6a9ad8" opacity="0.38"/><circle cx="64.2" cy="182.5" r="0.74" fill="#6a9ad8" opacity="0.36"/><circle cx="69.7" cy="175.6" r="0.73" fill="#6a9ad8" opacity="0.55"/><circle cx="72.6" cy="167.6" r="0.65" fill="#6a9ad8" opacity="0.44"/><circle cx="74.6" cy="167.3" r="0.69" fill="#6a9ad8" opacity="0.33"/><circle cx="73.6" cy="169.8" r="0.57" fill="#6a9ad8" opacity="0.50"/><circle cx="66.1" cy="178.7" r="0.41" fill="#6a9ad8" opacity="0.47"/><circle cx="63.6" cy="180.5" r="0.47" fill="#6a9ad8" opacity="0.59"/><circle cx="76.0" cy="166.6" r="0.42" fill="#6a9ad8" opacity="0.37"/><circle cx="78.0" cy="163.9" r="0.77" fill="#6a9ad8" opacity="0.37"/><circle cx="77.4" cy="164.2" r="0.42" fill="#6a9ad8" opacity="0.49"/><circle cx="73.8" cy="171.3" r="0.59" fill="#6a9ad8" opacity="0.51"/><circle cx="71.2" cy="174.7" r="0.64" fill="#6a9ad8" opacity="0.39"/><circle cx="70.1" cy="176.7" r="0.57" fill="#6a9ad8" opacity="0.34"/><circle cx="69.7" cy="174.4" r="0.79" fill="#6a9ad8" opacity="0.39"/><circle cx="68.8" cy="175.8" r="0.52" fill="#6a9ad8" opacity="0.36"/><circle cx="75.5" cy="167.6" r="0.48" fill="#6a9ad8" opacity="0.34"/><circle cx="72.8" cy="171.8" r="0.49" fill="#6a9ad8" opacity="0.57"/><circle cx="69.3" cy="175.6" r="0.59" fill="#6a9ad8" opacity="0.56"/><circle cx="73.5" cy="171.6" r="0.59" fill="#6a9ad8" opacity="0.38"/></g>
<g filter="url(#bl4)"><path d="M47.0,192.20000000000002 C48.4,188.8 52.4,185.4 57.4,184.60000000000002 C60.4,184.4 62.0,186.8 61.8,189.8 C61.4,191.4 59.4,192.0 57.4,192.0 Z" fill="#2d8ad8"/><path d="M48.599999999999994,191.60000000000002 C50.0,188.8 53.4,186.20000000000002 56.9,185.8 C59.2,185.8 60.4,187.8 60.0,189.60000000000002 C59.4,191.0 57.4,191.4 55.9,191.4 Z" fill="#1cc4a4"/><ellipse cx="54.7" cy="188.4" rx="2.8" ry="1.5" transform="rotate(-15 54.7 188.4)" fill="#a8d840"/><ellipse cx="54.7" cy="188.4" rx="1.4" ry="0.9" fill="#d8d838"/></g>
<rect x="36.40" y="147.10" width="52.30" height="52.20" fill="none" stroke="#333" stroke-width="0.7" />
<line x1="61.20" y1="147.10" x2="61.20" y2="199.30" stroke="#444" stroke-width="0.6" />
<line x1="36.40" y1="176.90" x2="88.70" y2="176.90" stroke="#444" stroke-width="0.6" />
<line x1="35.50" y1="151.12" x2="36.40" y2="151.12" stroke="#666" stroke-width="0.35" />
<line x1="35.50" y1="155.13" x2="36.40" y2="155.13" stroke="#666" stroke-width="0.35" />
<line x1="35.50" y1="159.15" x2="36.40" y2="159.15" stroke="#666" stroke-width="0.35" />
<line x1="35.50" y1="163.16" x2="36.40" y2="163.16" stroke="#666" stroke-width="0.35" />
<line x1="35.50" y1="167.18" x2="36.40" y2="167.18" stroke="#666" stroke-width="0.35" />
<line x1="35.50" y1="171.19" x2="36.40" y2="171.19" stroke="#666" stroke-width="0.35" />
<line x1="35.50" y1="175.21" x2="36.40" y2="175.21" stroke="#666" stroke-width="0.35" />
<line x1="35.50" y1="179.22" x2="36.40" y2="179.22" stroke="#666" stroke-width="0.35" />
<line x1="35.50" y1="183.24" x2="36.40" y2="183.24" stroke="#666" stroke-width="0.35" />
<line x1="35.50" y1="187.25" x2="36.40" y2="187.25" stroke="#666" stroke-width="0.35" />
<line x1="35.50" y1="191.27" x2="36.40" y2="191.27" stroke="#666" stroke-width="0.35" />
<line x1="35.50" y1="195.28" x2="36.40" y2="195.28" stroke="#666" stroke-width="0.35" />
<line x1="39.67" y1="199.30" x2="39.67" y2="200.20" stroke="#666" stroke-width="0.35" />
<line x1="42.94" y1="199.30" x2="42.94" y2="200.20" stroke="#666" stroke-width="0.35" />
<line x1="46.21" y1="199.30" x2="46.21" y2="200.20" stroke="#666" stroke-width="0.35" />
<line x1="49.47" y1="199.30" x2="49.47" y2="200.20" stroke="#666" stroke-width="0.35" />
<line x1="52.74" y1="199.30" x2="52.74" y2="200.20" stroke="#666" stroke-width="0.35" />
<line x1="56.01" y1="199.30" x2="56.01" y2="200.20" stroke="#666" stroke-width="0.35" />
<line x1="59.28" y1="199.30" x2="59.28" y2="200.20" stroke="#666" stroke-width="0.35" />
<line x1="62.55" y1="199.30" x2="62.55" y2="200.20" stroke="#666" stroke-width="0.35" />
<line x1="65.82" y1="199.30" x2="65.82" y2="200.20" stroke="#666" stroke-width="0.35" />
<line x1="69.09" y1="199.30" x2="69.09" y2="200.20" stroke="#666" stroke-width="0.35" />
<line x1="72.36" y1="199.30" x2="72.36" y2="200.20" stroke="#666" stroke-width="0.35" />
<line x1="75.62" y1="199.30" x2="75.62" y2="200.20" stroke="#666" stroke-width="0.35" />
<line x1="78.89" y1="199.30" x2="78.89" y2="200.20" stroke="#666" stroke-width="0.35" />
<line x1="82.16" y1="199.30" x2="82.16" y2="200.20" stroke="#666" stroke-width="0.35" />
<line x1="85.43" y1="199.30" x2="85.43" y2="200.20" stroke="#666" stroke-width="0.35" />
<rect x="35.20" y="189.80" width="1.20" height="1.60" fill="#222" stroke="none" stroke-width="0.6" />
<rect x="41.40" y="199.30" width="1.60" height="1.20" fill="#222" stroke="none" stroke-width="0.6" />
<text x="38.60" y="153.80" font-size="6.1" text-anchor="start" fill="#0a0a0a" stroke="#0a0a0a" stroke-width="0.16" >0.29%</text>
<text x="67.20" y="153.80" font-size="6.1" text-anchor="start" fill="#0a0a0a" stroke="#0a0a0a" stroke-width="0.16" >9.49%</text>
<text x="38.80" y="196.40" font-size="6.1" text-anchor="start" fill="#0a0a0a" stroke="#0a0a0a" stroke-width="0.16" >80.44%</text>
<text x="67.00" y="196.40" font-size="6.1" text-anchor="start" fill="#0a0a0a" stroke="#0a0a0a" stroke-width="0.16" >9.78%</text>
<g filter="url(#bl3)"><ellipse cx="137.60" cy="172.25" rx="11.14" ry="2.2" transform="rotate(-44.1 137.60 172.25)" fill="#b8d2ee" opacity="0.75"/><ellipse cx="141.35" cy="168.25" rx="5.3" ry="1.6" transform="rotate(-45.0 141.35 168.25)" fill="#80acdc" opacity="0.8"/><ellipse cx="132.60" cy="179.50" rx="4.03" ry="1.0" transform="rotate(-60.3 132.60 179.50)" fill="#c0d6f0" opacity="0.7"/><ellipse cx="131.60" cy="188.50" rx="5.0" ry="3.0" transform="rotate(-25 131.60 188.50)" fill="#9cc0e8" opacity="0.85"/><ellipse cx="134.60" cy="186.00" rx="2.6" ry="3.0" transform="rotate(-45 134.60 186.00)" fill="#8cb4e2" opacity="0.75"/><ellipse cx="130.10" cy="190.00" rx="2.4" ry="1.6" transform="rotate(-10 130.10 190.00)" fill="#6a9edc" opacity="0.85"/></g>
<g filter="url(#bl4)"><circle cx="136.5" cy="172.1" r="0.69" fill="#6a9ad8" opacity="0.31"/><circle cx="136.8" cy="176.3" r="0.65" fill="#6a9ad8" opacity="0.33"/><circle cx="138.6" cy="171.9" r="0.77" fill="#6a9ad8" opacity="0.53"/><circle cx="142.9" cy="163.6" r="0.43" fill="#6a9ad8" opacity="0.39"/><circle cx="136.7" cy="174.5" r="0.46" fill="#6a9ad8" opacity="0.30"/><circle cx="144.4" cy="166.4" r="0.54" fill="#6a9ad8" opacity="0.46"/><circle cx="146.7" cy="163.8" r="0.79" fill="#6a9ad8" opacity="0.44"/><circle cx="144.5" cy="167.0" r="0.69" fill="#6a9ad8" opacity="0.48"/><circle cx="134.7" cy="176.9" r="0.53" fill="#6a9ad8" opacity="0.31"/><circle cx="140.5" cy="172.0" r="0.74" fill="#6a9ad8" opacity="0.42"/><circle cx="141.0" cy="170.2" r="0.57" fill="#6a9ad8" opacity="0.31"/><circle cx="140.9" cy="169.0" r="0.45" fill="#6a9ad8" opacity="0.50"/><circle cx="135.9" cy="174.9" r="0.62" fill="#6a9ad8" opacity="0.35"/><circle cx="137.2" cy="173.1" r="0.61" fill="#6a9ad8" opacity="0.43"/><circle cx="132.7" cy="178.5" r="0.55" fill="#6a9ad8" opacity="0.52"/><circle cx="133.1" cy="177.9" r="0.73" fill="#6a9ad8" opacity="0.48"/><circle cx="141.2" cy="170.7" r="0.61" fill="#6a9ad8" opacity="0.54"/><circle cx="130.5" cy="181.2" r="0.53" fill="#6a9ad8" opacity="0.52"/><circle cx="136.5" cy="174.2" r="0.47" fill="#6a9ad8" opacity="0.34"/><circle cx="132.2" cy="178.0" r="0.71" fill="#6a9ad8" opacity="0.43"/><circle cx="136.0" cy="176.3" r="0.60" fill="#6a9ad8" opacity="0.31"/><circle cx="130.9" cy="181.4" r="0.62" fill="#6a9ad8" opacity="0.46"/><circle cx="144.6" cy="164.9" r="0.46" fill="#6a9ad8" opacity="0.54"/><circle cx="143.3" cy="165.9" r="0.66" fill="#6a9ad8" opacity="0.45"/><circle cx="137.5" cy="171.3" r="0.57" fill="#6a9ad8" opacity="0.59"/><circle cx="139.2" cy="170.8" r="0.43" fill="#6a9ad8" opacity="0.50"/><circle cx="133.5" cy="175.7" r="0.59" fill="#6a9ad8" opacity="0.57"/><circle cx="142.2" cy="168.7" r="0.64" fill="#6a9ad8" opacity="0.53"/><circle cx="147.1" cy="164.5" r="0.53" fill="#6a9ad8" opacity="0.38"/><circle cx="133.5" cy="176.6" r="0.66" fill="#6a9ad8" opacity="0.48"/></g>
<g filter="url(#bl4)"><path d="M114.19999999999999,192.4 C115.6,189.0 119.6,185.6 124.6,184.8 C127.6,184.6 129.2,187.0 129.0,190.0 C128.6,191.6 126.6,192.2 124.6,192.2 Z" fill="#2d8ad8"/><path d="M115.8,191.8 C117.19999999999999,189.0 120.6,186.4 124.1,186.0 C126.39999999999999,186.0 127.6,188.0 127.19999999999999,189.8 C126.6,191.2 124.6,191.6 123.1,191.6 Z" fill="#1cc4a4"/><ellipse cx="121.89999999999999" cy="188.6" rx="2.8" ry="1.5" transform="rotate(-15 121.89999999999999 188.6)" fill="#a8d840"/><ellipse cx="121.89999999999999" cy="188.6" rx="1.4" ry="0.9" fill="#d8d838"/></g>
<rect x="103.60" y="147.20" width="51.90" height="52.10" fill="none" stroke="#333" stroke-width="0.7" />
<line x1="128.60" y1="147.20" x2="128.60" y2="199.30" stroke="#444" stroke-width="0.6" />
<line x1="103.60" y1="177.00" x2="155.50" y2="177.00" stroke="#444" stroke-width="0.6" />
<line x1="102.70" y1="151.21" x2="103.60" y2="151.21" stroke="#666" stroke-width="0.35" />
<line x1="102.70" y1="155.22" x2="103.60" y2="155.22" stroke="#666" stroke-width="0.35" />
<line x1="102.70" y1="159.22" x2="103.60" y2="159.22" stroke="#666" stroke-width="0.35" />
<line x1="102.70" y1="163.23" x2="103.60" y2="163.23" stroke="#666" stroke-width="0.35" />
<line x1="102.70" y1="167.24" x2="103.60" y2="167.24" stroke="#666" stroke-width="0.35" />
<line x1="102.70" y1="171.25" x2="103.60" y2="171.25" stroke="#666" stroke-width="0.35" />
<line x1="102.70" y1="175.25" x2="103.60" y2="175.25" stroke="#666" stroke-width="0.35" />
<line x1="102.70" y1="179.26" x2="103.60" y2="179.26" stroke="#666" stroke-width="0.35" />
<line x1="102.70" y1="183.27" x2="103.60" y2="183.27" stroke="#666" stroke-width="0.35" />
<line x1="102.70" y1="187.28" x2="103.60" y2="187.28" stroke="#666" stroke-width="0.35" />
<line x1="102.70" y1="191.28" x2="103.60" y2="191.28" stroke="#666" stroke-width="0.35" />
<line x1="102.70" y1="195.29" x2="103.60" y2="195.29" stroke="#666" stroke-width="0.35" />
<line x1="106.84" y1="199.30" x2="106.84" y2="200.20" stroke="#666" stroke-width="0.35" />
<line x1="110.09" y1="199.30" x2="110.09" y2="200.20" stroke="#666" stroke-width="0.35" />
<line x1="113.33" y1="199.30" x2="113.33" y2="200.20" stroke="#666" stroke-width="0.35" />
<line x1="116.57" y1="199.30" x2="116.57" y2="200.20" stroke="#666" stroke-width="0.35" />
<line x1="119.82" y1="199.30" x2="119.82" y2="200.20" stroke="#666" stroke-width="0.35" />
<line x1="123.06" y1="199.30" x2="123.06" y2="200.20" stroke="#666" stroke-width="0.35" />
<line x1="126.31" y1="199.30" x2="126.31" y2="200.20" stroke="#666" stroke-width="0.35" />
<line x1="129.55" y1="199.30" x2="129.55" y2="200.20" stroke="#666" stroke-width="0.35" />
<line x1="132.79" y1="199.30" x2="132.79" y2="200.20" stroke="#666" stroke-width="0.35" />
<line x1="136.04" y1="199.30" x2="136.04" y2="200.20" stroke="#666" stroke-width="0.35" />
<line x1="139.28" y1="199.30" x2="139.28" y2="200.20" stroke="#666" stroke-width="0.35" />
<line x1="142.52" y1="199.30" x2="142.52" y2="200.20" stroke="#666" stroke-width="0.35" />
<line x1="145.77" y1="199.30" x2="145.77" y2="200.20" stroke="#666" stroke-width="0.35" />
<line x1="149.01" y1="199.30" x2="149.01" y2="200.20" stroke="#666" stroke-width="0.35" />
<line x1="152.26" y1="199.30" x2="152.26" y2="200.20" stroke="#666" stroke-width="0.35" />
<rect x="102.40" y="189.80" width="1.20" height="1.60" fill="#222" stroke="none" stroke-width="0.6" />
<rect x="108.60" y="199.30" width="1.60" height="1.20" fill="#222" stroke="none" stroke-width="0.6" />
<text x="105.20" y="153.80" font-size="6.1" text-anchor="start" fill="#0a0a0a" stroke="#0a0a0a" stroke-width="0.16" >0.09%</text>
<text x="131.80" y="153.80" font-size="6.1" text-anchor="start" fill="#0a0a0a" stroke="#0a0a0a" stroke-width="0.16" >9.34%</text>
<text x="105.00" y="196.40" font-size="6.1" text-anchor="start" fill="#0a0a0a" stroke="#0a0a0a" stroke-width="0.16" >82.19%</text>
<text x="132.80" y="196.40" font-size="6.1" text-anchor="start" fill="#0a0a0a" stroke="#0a0a0a" stroke-width="0.16" >8.38%</text>
<text x="64.00" y="142.40" font-size="8.2" text-anchor="middle" fill="#0a0a0a" stroke="#0a0a0a" stroke-width="0.16" >Control</text>
<text x="129.80" y="142.60" font-size="8.2" text-anchor="middle" fill="#0a0a0a" stroke="#0a0a0a" stroke-width="0.16" >S100A8</text>
<text x="0.00" y="0.00" font-size="8.0" text-anchor="middle" font-weight="bold" fill="#0a0a0a" stroke="#0a0a0a" stroke-width="0.32" transform="translate(56.50 214.30) scale(0.639 1)" >Annexin V</text>
<text x="0.00" y="0.00" font-size="8.4" text-anchor="middle" font-weight="bold" fill="#0a0a0a" stroke="#0a0a0a" stroke-width="0.32" transform="translate(22.20 195.40) rotate(-90) scale(0.655 1)" >PI</text>
<line x1="198.40" y1="148.60" x2="198.40" y2="207.80" stroke="#000" stroke-width="1.25" />
<line x1="197.90" y1="207.30" x2="228.00" y2="207.30" stroke="#000" stroke-width="1.25" />
<line x1="196.20" y1="207.30" x2="198.40" y2="207.30" stroke="#111" stroke-width="0.8" />
<text x="194.60" y="209.30" font-size="5.8" text-anchor="end" fill="#0a0a0a" stroke="#0a0a0a" stroke-width="0.16" >0</text>
<line x1="196.20" y1="193.10" x2="198.40" y2="193.10" stroke="#111" stroke-width="0.8" />
<text x="194.60" y="195.10" font-size="5.8" text-anchor="end" fill="#0a0a0a" stroke="#0a0a0a" stroke-width="0.16" >5</text>
<line x1="196.20" y1="178.90" x2="198.40" y2="178.90" stroke="#111" stroke-width="0.8" />
<text x="194.60" y="180.90" font-size="5.8" text-anchor="end" fill="#0a0a0a" stroke="#0a0a0a" stroke-width="0.16" >10</text>
<line x1="196.20" y1="164.70" x2="198.40" y2="164.70" stroke="#111" stroke-width="0.8" />
<text x="194.60" y="166.70" font-size="5.8" text-anchor="end" fill="#0a0a0a" stroke="#0a0a0a" stroke-width="0.16" >15</text>
<line x1="196.20" y1="150.50" x2="198.40" y2="150.50" stroke="#111" stroke-width="0.8" />
<text x="194.60" y="152.50" font-size="5.8" text-anchor="end" fill="#0a0a0a" stroke="#0a0a0a" stroke-width="0.16" >20</text>
<rect x="202.50" y="159.59" width="7.20" height="47.71" fill="#c8102e" stroke="none" stroke-width="0.6" />
<line x1="206.10" y1="156.18" x2="206.10" y2="159.59" stroke="#c8102e" stroke-width="0.8" />
<line x1="203.90" y1="156.18" x2="208.30" y2="156.18" stroke="#c8102e" stroke-width="0.8" />
<rect x="218.40" y="162.43" width="7.20" height="44.87" fill="#1f4e89" stroke="none" stroke-width="0.6" />
<line x1="222.00" y1="157.32" x2="222.00" y2="162.43" stroke="#1f4e89" stroke-width="0.8" />
<line x1="219.80" y1="157.32" x2="224.20" y2="157.32" stroke="#1f4e89" stroke-width="0.8" />
<line x1="206.80" y1="154.10" x2="221.20" y2="154.10" stroke="#333" stroke-width="0.6" />
<text x="214.00" y="152.40" font-size="5.6" text-anchor="middle" fill="#333" stroke="#333" stroke-width="0.16" >ns</text>
<line x1="206.10" y1="207.30" x2="206.10" y2="209.90" stroke="#111" stroke-width="0.8" />
<line x1="222.00" y1="207.30" x2="222.00" y2="209.90" stroke="#111" stroke-width="0.8" />
<text x="0.00" y="0.00" font-size="6.0" text-anchor="end" fill="#0a0a0a" stroke="#0a0a0a" stroke-width="0.16" transform="translate(208.60 215.00) rotate(-45)" >Control</text>
<text x="0.00" y="0.00" font-size="6.0" text-anchor="end" fill="#0a0a0a" stroke="#0a0a0a" stroke-width="0.16" transform="translate(224.60 215.00) rotate(-45)" >S100A8</text>
<text x="0.00" y="0.00" font-size="6.8" text-anchor="middle" font-weight="bold" fill="#0a0a0a" stroke="#0a0a0a" stroke-width="0.32" transform="translate(180.00 176.80) rotate(-90) scale(0.803 1)" >Annexin V<tspan font-size="3.8" dy="-2.2">+</tspan><tspan dy="2.2"> cells of KASUMI-1%</tspan></text>
<line x1="27.50" y1="152.30" x2="27.50" y2="204.50" stroke="#000" stroke-width="1.3" />
<line x1="26.85" y1="204.50" x2="148.60" y2="204.50" stroke="#000" stroke-width="1.3" />
<path d="M27.5,146.2 L24.8,152.79999999999998 L30.2,152.79999999999998 Z" fill="#111"/>
<path d="M154.7,204.5 L148.1,201.8 L148.1,207.2 Z" fill="#111"/>
<g filter="url(#bl4)"><path d="M304.4,175.79999999999998 C305.4,172.1 309.4,169.5 314.6,167.2 C317.1,165.8 319.6,165.2 320.40000000000003,166.2 C320.8,168.5 318.1,173.8 315.6,176.20000000000002 C312.6,177.4 307.4,177.60000000000002 304.4,175.79999999999998 Z" fill="#5aa4e4"/><path d="M307.4,175.2 C308.9,172.6 311.4,169.5 315.1,168.2 C317.1,167.2 319.0,166.6 319.40000000000003,167.2 C319.6,169.0 317.1,173.60000000000002 314.8,175.3 C312.1,176.20000000000002 309.4,176.0 307.4,175.2 Z" fill="#30b8d8"/><path d="M311.4,174.2 C312.4,172.6 313.4,169.5 315.8,168.6 C317.40000000000003,168.0 318.40000000000003,167.6 318.6,168.2 C318.6,169.6 316.6,173.20000000000002 314.6,174.4 C312.1,175.20000000000002 312.4,175.20000000000002 311.4,174.2 Z" fill="#20c6c0"/><ellipse cx="308.50" cy="185.40" rx="6.72" ry="2.2" transform="rotate(-45.6 308.50 185.40)" fill="#48acdf" opacity="1"/><ellipse cx="308.50" cy="185.40" rx="5.59" ry="1.32" transform="rotate(-45.7 308.50 185.40)" fill="#1cbcb8" opacity="1"/><ellipse cx="293.25" cy="186.20" rx="8.73" ry="3.0" transform="rotate(-24.4 293.25 186.20)" fill="#3aa0e0" opacity="1"/><ellipse cx="294.50" cy="185.75" rx="6.82" ry="2.0999999999999996" transform="rotate(-24.7 294.50 185.75)" fill="#20c0b8" opacity="1"/><ellipse cx="296.80" cy="185.40" rx="3.6" ry="2.4" transform="rotate(-25 296.80 185.40)" fill="#50c860" opacity="1"/><ellipse cx="296.80" cy="185.40" rx="2.0" ry="1.5" transform="rotate(-25 296.80 185.40)" fill="#d8d030" opacity="1"/><ellipse cx="296.80" cy="185.40" rx="0.8" ry="0.7" transform="rotate(-25 296.80 185.40)" fill="#e0a020" opacity="1"/></g>
<rect x="275.40" y="145.50" width="53.80" height="53.10" fill="none" stroke="#333" stroke-width="0.7" />
<line x1="302.70" y1="145.50" x2="302.70" y2="198.60" stroke="#444" stroke-width="0.6" />
<line x1="275.40" y1="178.40" x2="329.20" y2="178.40" stroke="#444" stroke-width="0.6" />
<line x1="274.50" y1="149.58" x2="275.40" y2="149.58" stroke="#666" stroke-width="0.35" />
<line x1="274.50" y1="153.67" x2="275.40" y2="153.67" stroke="#666" stroke-width="0.35" />
<line x1="274.50" y1="157.75" x2="275.40" y2="157.75" stroke="#666" stroke-width="0.35" />
<line x1="274.50" y1="161.84" x2="275.40" y2="161.84" stroke="#666" stroke-width="0.35" />
<line x1="274.50" y1="165.92" x2="275.40" y2="165.92" stroke="#666" stroke-width="0.35" />
<line x1="274.50" y1="170.01" x2="275.40" y2="170.01" stroke="#666" stroke-width="0.35" />
<line x1="274.50" y1="174.09" x2="275.40" y2="174.09" stroke="#666" stroke-width="0.35" />
<line x1="274.50" y1="178.18" x2="275.40" y2="178.18" stroke="#666" stroke-width="0.35" />
<line x1="274.50" y1="182.26" x2="275.40" y2="182.26" stroke="#666" stroke-width="0.35" />
<line x1="274.50" y1="186.35" x2="275.40" y2="186.35" stroke="#666" stroke-width="0.35" />
<line x1="274.50" y1="190.43" x2="275.40" y2="190.43" stroke="#666" stroke-width="0.35" />
<line x1="274.50" y1="194.52" x2="275.40" y2="194.52" stroke="#666" stroke-width="0.35" />
<line x1="278.76" y1="198.60" x2="278.76" y2="199.50" stroke="#666" stroke-width="0.35" />
<line x1="282.12" y1="198.60" x2="282.12" y2="199.50" stroke="#666" stroke-width="0.35" />
<line x1="285.49" y1="198.60" x2="285.49" y2="199.50" stroke="#666" stroke-width="0.35" />
<line x1="288.85" y1="198.60" x2="288.85" y2="199.50" stroke="#666" stroke-width="0.35" />
<line x1="292.21" y1="198.60" x2="292.21" y2="199.50" stroke="#666" stroke-width="0.35" />
<line x1="295.57" y1="198.60" x2="295.57" y2="199.50" stroke="#666" stroke-width="0.35" />
<line x1="298.94" y1="198.60" x2="298.94" y2="199.50" stroke="#666" stroke-width="0.35" />
<line x1="302.30" y1="198.60" x2="302.30" y2="199.50" stroke="#666" stroke-width="0.35" />
<line x1="305.66" y1="198.60" x2="305.66" y2="199.50" stroke="#666" stroke-width="0.35" />
<line x1="309.02" y1="198.60" x2="309.02" y2="199.50" stroke="#666" stroke-width="0.35" />
<line x1="312.39" y1="198.60" x2="312.39" y2="199.50" stroke="#666" stroke-width="0.35" />
<line x1="315.75" y1="198.60" x2="315.75" y2="199.50" stroke="#666" stroke-width="0.35" />
<line x1="319.11" y1="198.60" x2="319.11" y2="199.50" stroke="#666" stroke-width="0.35" />
<line x1="322.47" y1="198.60" x2="322.47" y2="199.50" stroke="#666" stroke-width="0.35" />
<line x1="325.84" y1="198.60" x2="325.84" y2="199.50" stroke="#666" stroke-width="0.35" />
<rect x="274.20" y="189.10" width="1.20" height="1.60" fill="#222" stroke="none" stroke-width="0.6" />
<rect x="280.40" y="198.60" width="1.60" height="1.20" fill="#222" stroke="none" stroke-width="0.6" />
<text x="279.20" y="154.40" font-size="6.4" text-anchor="start" fill="#0a0a0a" stroke="#0a0a0a" stroke-width="0.16" >0.41%</text>
<text x="305.80" y="154.40" font-size="6.4" text-anchor="start" fill="#0a0a0a" stroke="#0a0a0a" stroke-width="0.16" >45.73%</text>
<text x="280.40" y="196.80" font-size="6.4" text-anchor="start" fill="#0a0a0a" stroke="#0a0a0a" stroke-width="0.16" >31.24%</text>
<text x="305.80" y="196.80" font-size="6.4" text-anchor="start" fill="#0a0a0a" stroke="#0a0a0a" stroke-width="0.16" >22.62%</text>
<g filter="url(#bl4)"><path d="M373.8,175.2 C374.8,171.5 378.8,169.7 382.4,167.39999999999998 C384.9,166.0 387.4,165.39999999999998 388.2,166.39999999999998 C388.59999999999997,168.7 385.9,173.6 383.4,176.0 C380.4,177.2 376.8,177.4 373.8,175.2 Z" fill="#5aa4e4"/><path d="M376.8,174.6 C378.3,172.0 380.8,169.7 382.9,168.39999999999998 C384.9,167.39999999999998 386.79999999999995,166.79999999999998 387.2,167.39999999999998 C387.4,169.2 384.9,173.4 382.59999999999997,175.1 C379.9,176.0 378.8,175.79999999999998 376.8,174.6 Z" fill="#30b8d8"/><path d="M380.8,173.6 C381.8,172.0 382.8,169.7 383.59999999999997,168.79999999999998 C385.2,168.2 386.2,167.79999999999998 386.4,168.39999999999998 C386.4,169.79999999999998 384.4,173.0 382.4,174.2 C379.9,175.0 381.8,175.0 380.8,173.6 Z" fill="#20c6c0"/><ellipse cx="377.00" cy="185.10" rx="6.61" ry="2.2" transform="rotate(-50.5 377.00 185.10)" fill="#48acdf" opacity="1"/><ellipse cx="377.00" cy="185.10" rx="5.48" ry="1.32" transform="rotate(-51.7 377.00 185.10)" fill="#1cbcb8" opacity="1"/><ellipse cx="361.50" cy="185.80" rx="8.86" ry="3.0" transform="rotate(-25.4 361.50 185.80)" fill="#3aa0e0" opacity="1"/><ellipse cx="362.75" cy="185.35" rx="6.95" ry="2.0999999999999996" transform="rotate(-26.0 362.75 185.35)" fill="#20c0b8" opacity="1"/><ellipse cx="364.60" cy="184.80" rx="3.6" ry="2.4" transform="rotate(-25 364.60 184.80)" fill="#50c860" opacity="1"/><ellipse cx="364.60" cy="184.80" rx="2.0" ry="1.5" transform="rotate(-25 364.60 184.80)" fill="#d8d030" opacity="1"/><ellipse cx="364.60" cy="184.80" rx="1.0" ry="0.8" transform="rotate(-25 364.60 184.80)" fill="#e05018" opacity="1"/></g>
<rect x="343.40" y="145.50" width="53.70" height="53.10" fill="none" stroke="#333" stroke-width="0.7" />
<line x1="371.60" y1="145.50" x2="371.60" y2="198.60" stroke="#444" stroke-width="0.6" />
<line x1="343.40" y1="178.60" x2="397.10" y2="178.60" stroke="#444" stroke-width="0.6" />
<line x1="342.50" y1="149.58" x2="343.40" y2="149.58" stroke="#666" stroke-width="0.35" />
<line x1="342.50" y1="153.67" x2="343.40" y2="153.67" stroke="#666" stroke-width="0.35" />
<line x1="342.50" y1="157.75" x2="343.40" y2="157.75" stroke="#666" stroke-width="0.35" />
<line x1="342.50" y1="161.84" x2="343.40" y2="161.84" stroke="#666" stroke-width="0.35" />
<line x1="342.50" y1="165.92" x2="343.40" y2="165.92" stroke="#666" stroke-width="0.35" />
<line x1="342.50" y1="170.01" x2="343.40" y2="170.01" stroke="#666" stroke-width="0.35" />
<line x1="342.50" y1="174.09" x2="343.40" y2="174.09" stroke="#666" stroke-width="0.35" />
<line x1="342.50" y1="178.18" x2="343.40" y2="178.18" stroke="#666" stroke-width="0.35" />
<line x1="342.50" y1="182.26" x2="343.40" y2="182.26" stroke="#666" stroke-width="0.35" />
<line x1="342.50" y1="186.35" x2="343.40" y2="186.35" stroke="#666" stroke-width="0.35" />
<line x1="342.50" y1="190.43" x2="343.40" y2="190.43" stroke="#666" stroke-width="0.35" />
<line x1="342.50" y1="194.52" x2="343.40" y2="194.52" stroke="#666" stroke-width="0.35" />
<line x1="346.76" y1="198.60" x2="346.76" y2="199.50" stroke="#666" stroke-width="0.35" />
<line x1="350.11" y1="198.60" x2="350.11" y2="199.50" stroke="#666" stroke-width="0.35" />
<line x1="353.47" y1="198.60" x2="353.47" y2="199.50" stroke="#666" stroke-width="0.35" />
<line x1="356.82" y1="198.60" x2="356.82" y2="199.50" stroke="#666" stroke-width="0.35" />
<line x1="360.18" y1="198.60" x2="360.18" y2="199.50" stroke="#666" stroke-width="0.35" />
<line x1="363.54" y1="198.60" x2="363.54" y2="199.50" stroke="#666" stroke-width="0.35" />
<line x1="366.89" y1="198.60" x2="366.89" y2="199.50" stroke="#666" stroke-width="0.35" />
<line x1="370.25" y1="198.60" x2="370.25" y2="199.50" stroke="#666" stroke-width="0.35" />
<line x1="373.61" y1="198.60" x2="373.61" y2="199.50" stroke="#666" stroke-width="0.35" />
<line x1="376.96" y1="198.60" x2="376.96" y2="199.50" stroke="#666" stroke-width="0.35" />
<line x1="380.32" y1="198.60" x2="380.32" y2="199.50" stroke="#666" stroke-width="0.35" />
<line x1="383.67" y1="198.60" x2="383.67" y2="199.50" stroke="#666" stroke-width="0.35" />
<line x1="387.03" y1="198.60" x2="387.03" y2="199.50" stroke="#666" stroke-width="0.35" />
<line x1="390.39" y1="198.60" x2="390.39" y2="199.50" stroke="#666" stroke-width="0.35" />
<line x1="393.74" y1="198.60" x2="393.74" y2="199.50" stroke="#666" stroke-width="0.35" />
<rect x="342.20" y="189.10" width="1.20" height="1.60" fill="#222" stroke="none" stroke-width="0.6" />
<rect x="348.40" y="198.60" width="1.60" height="1.20" fill="#222" stroke="none" stroke-width="0.6" />
<text x="345.80" y="154.40" font-size="6.4" text-anchor="start" fill="#0a0a0a" stroke="#0a0a0a" stroke-width="0.16" >0.36%</text>
<text x="373.60" y="154.40" font-size="6.4" text-anchor="start" fill="#0a0a0a" stroke="#0a0a0a" stroke-width="0.16" >27.80%</text>
<text x="345.20" y="196.80" font-size="6.4" text-anchor="start" fill="#0a0a0a" stroke="#0a0a0a" stroke-width="0.16" >53.95%</text>
<text x="374.00" y="196.80" font-size="6.4" text-anchor="start" fill="#0a0a0a" stroke="#0a0a0a" stroke-width="0.16" >17.89%</text>
<text x="303.70" y="143.40" font-size="8.2" text-anchor="middle" fill="#0a0a0a" stroke="#0a0a0a" stroke-width="0.16" >Control</text>
<text x="369.20" y="143.40" font-size="8.2" text-anchor="middle" fill="#0a0a0a" stroke="#0a0a0a" stroke-width="0.16" >S100A8</text>
<text x="0.00" y="0.00" font-size="8.0" text-anchor="middle" font-weight="bold" fill="#0a0a0a" stroke="#0a0a0a" stroke-width="0.32" transform="translate(296.60 214.40) scale(0.614 1)" >Annexin V</text>
<text x="0.00" y="0.00" font-size="8.4" text-anchor="middle" font-weight="bold" fill="#0a0a0a" stroke="#0a0a0a" stroke-width="0.32" transform="translate(262.30 195.40) rotate(-90) scale(0.668 1)" >PI</text>
<text x="463.80" y="143.40" font-size="8.2" text-anchor="middle" fill="#0a0a0a" stroke="#0a0a0a" stroke-width="0.16" >Etoposide</text>
<line x1="448.00" y1="148.40" x2="448.00" y2="207.70" stroke="#000" stroke-width="1.25" />
<line x1="447.50" y1="207.20" x2="479.10" y2="207.20" stroke="#000" stroke-width="1.25" />
<line x1="445.80" y1="207.20" x2="448.00" y2="207.20" stroke="#111" stroke-width="0.8" />
<text x="443.60" y="209.20" font-size="5.8" text-anchor="end" fill="#0a0a0a" stroke="#0a0a0a" stroke-width="0.16" >0</text>
<line x1="445.80" y1="193.10" x2="448.00" y2="193.10" stroke="#111" stroke-width="0.8" />
<text x="443.60" y="195.10" font-size="5.8" text-anchor="end" fill="#0a0a0a" stroke="#0a0a0a" stroke-width="0.16" >20</text>
<line x1="445.80" y1="179.00" x2="448.00" y2="179.00" stroke="#111" stroke-width="0.8" />
<text x="443.60" y="181.00" font-size="5.8" text-anchor="end" fill="#0a0a0a" stroke="#0a0a0a" stroke-width="0.16" >40</text>
<line x1="445.80" y1="164.90" x2="448.00" y2="164.90" stroke="#111" stroke-width="0.8" />
<text x="443.60" y="166.90" font-size="5.8" text-anchor="end" fill="#0a0a0a" stroke="#0a0a0a" stroke-width="0.16" >60</text>
<line x1="445.80" y1="150.80" x2="448.00" y2="150.80" stroke="#111" stroke-width="0.8" />
<text x="443.60" y="152.80" font-size="5.8" text-anchor="end" fill="#0a0a0a" stroke="#0a0a0a" stroke-width="0.16" >80</text>
<rect x="452.30" y="180.55" width="7.20" height="26.65" fill="#c8102e" stroke="none" stroke-width="0.6" />
<line x1="455.90" y1="175.76" x2="455.90" y2="180.55" stroke="#c8102e" stroke-width="0.8" />
<line x1="453.70" y1="175.76" x2="458.10" y2="175.76" stroke="#c8102e" stroke-width="0.8" />
<rect x="467.70" y="170.54" width="7.20" height="36.66" fill="#1f4e89" stroke="none" stroke-width="0.6" />
<line x1="471.30" y1="165.89" x2="471.30" y2="170.54" stroke="#1f4e89" stroke-width="0.8" />
<line x1="469.10" y1="165.89" x2="473.50" y2="165.89" stroke="#1f4e89" stroke-width="0.8" />
<line x1="457.00" y1="162.80" x2="470.00" y2="162.80" stroke="#333" stroke-width="0.6" />
<text x="463.50" y="161.90" font-size="5.8" text-anchor="middle" fill="#333" stroke="#333" stroke-width="0.16" >*</text>
<line x1="455.90" y1="207.20" x2="455.90" y2="209.80" stroke="#111" stroke-width="0.8" />
<line x1="471.30" y1="207.20" x2="471.30" y2="209.80" stroke="#111" stroke-width="0.8" />
<text x="0.00" y="0.00" font-size="6.0" text-anchor="end" fill="#0a0a0a" stroke="#0a0a0a" stroke-width="0.16" transform="translate(458.60 216.20) rotate(-45)" >Control</text>
<text x="0.00" y="0.00" font-size="6.0" text-anchor="end" fill="#0a0a0a" stroke="#0a0a0a" stroke-width="0.16" transform="translate(474.00 216.20) rotate(-45)" >S100A8</text>
<text x="0.00" y="0.00" font-size="7.0" text-anchor="middle" font-weight="bold" fill="#0a0a0a" stroke="#0a0a0a" stroke-width="0.32" transform="translate(430.00 178.80) rotate(-90) scale(0.797 1)" >Live cell rate (%)</text>
<line x1="267.60" y1="152.30" x2="267.60" y2="204.50" stroke="#000" stroke-width="1.3" />
<line x1="266.95" y1="204.50" x2="388.60" y2="204.50" stroke="#000" stroke-width="1.3" />
<path d="M267.6,146.2 L264.90000000000003,152.79999999999998 L270.3,152.79999999999998 Z" fill="#111"/>
<path d="M394.7,204.5 L388.09999999999997,201.8 L388.09999999999997,207.2 Z" fill="#111"/>
<g fill="#c9c9c9"><ellipse cx="37.8" cy="272.6" rx="2.7" ry="3.5"/><rect x="36.6" y="275" width="2.4" height="3"/><path d="M36.4,277.4 C33,277.8 31,278.2 30.2,279.8 L29.4,286 L27.6,294 L26,298 C25.2,299.5 25.4,302.5 27,303 C28.4,303.2 29,301 28.8,299 L30.2,293.5 L31.6,287.5 L32,295 L32.2,305 L33,315 L33.8,323 L33.4,325.6 L36.6,325.8 L36.6,322 L37.2,307.6 L38.4,307.6 L39,322 L39,325.8 L42.2,325.6 L41.8,323 L42.6,315 L43.4,305 L43.6,295 L44,287.5 L45.4,293.5 L46.8,299 C46.6,301 47.2,303.2 48.6,303 C50.2,302.5 50.4,299.5 49.6,298 L48,294 L46.2,286 L45.4,279.8 C44.6,278.2 42.6,277.8 39.2,277.4 Z"/></g>
<text x="0.00" y="0.00" font-size="6.0" text-anchor="middle" fill="#151515" stroke="#151515" stroke-width="0.08" transform="translate(37.30 334.00) scale(0.950 1)" >AML patient</text>
<text x="0.00" y="0.00" font-size="6.0" text-anchor="middle" fill="#151515" stroke="#151515" stroke-width="0.08" transform="translate(75.60 295.00) scale(0.945 1)" >Apheresis</text>
<line x1="60.00" y1="300.50" x2="90.60" y2="300.50" stroke="#f29a32" stroke-width="1.0" />
<path d="M93.6,300.5 L89.19999999999999,298.4 L90.39999999999999,300.5 L89.19999999999999,302.6 Z" fill="#f29a32"/>
<circle cx="117.90" cy="291.70" r="2.1" fill="#b3163c" />
<circle cx="124.20" cy="295.00" r="2.1" fill="#b3163c" />
<circle cx="106.30" cy="298.80" r="2.1" fill="#b3163c" />
<circle cx="118.80" cy="299.80" r="2.1" fill="#b3163c" />
<circle cx="113.50" cy="301.30" r="2.1" fill="#b3163c" />
<circle cx="130.40" cy="298.80" r="2.1" fill="#b3163c" />
<circle cx="123.70" cy="302.70" r="2.1" fill="#b3163c" />
<circle cx="106.30" cy="305.60" r="2.1" fill="#b3163c" />
<circle cx="116.90" cy="309.00" r="2.1" fill="#b3163c" />
<circle cx="126.20" cy="308.00" r="2.1" fill="#b3163c" />
<text x="0.00" y="0.00" font-size="6.0" text-anchor="middle" fill="#151515" stroke="#151515" stroke-width="0.08" transform="translate(118.60 319.00) scale(0.934 1)" >leukemia cells</text>
<text x="0.00" y="0.00" font-size="6.0" text-anchor="middle" fill="#151515" stroke="#151515" stroke-width="0.08" transform="translate(159.20 290.80) scale(0.976 1)" >cell sorting</text>
<text x="0.00" y="0.00" font-size="6.0" text-anchor="middle" fill="#151515" stroke="#151515" stroke-width="0.08" transform="translate(159.20 297.20) scale(0.956 1)" >(MACS)</text>
<line x1="143.80" y1="300.20" x2="172.80" y2="300.20" stroke="#f29a32" stroke-width="1.0" />
<path d="M175.8,300.2 L171.4,298.09999999999997 L172.60000000000002,300.2 L171.4,302.3 Z" fill="#f29a32"/>
<circle cx="200.80" cy="291.10" r="2.1" fill="#b3163c" />
<circle cx="207.20" cy="294.30" r="2.1" fill="#b3163c" />
<circle cx="189.50" cy="298.00" r="2.1" fill="#b3163c" />
<circle cx="201.80" cy="298.80" r="2.1" fill="#b3163c" />
<circle cx="196.60" cy="300.80" r="2.1" fill="#b3163c" />
<circle cx="213.80" cy="298.20" r="2.1" fill="#b3163c" />
<circle cx="206.50" cy="302.00" r="2.1" fill="#b3163c" />
<circle cx="189.50" cy="305.40" r="2.1" fill="#b3163c" />
<circle cx="200.00" cy="307.70" r="2.1" fill="#b3163c" />
<circle cx="208.90" cy="306.90" r="2.1" fill="#b3163c" />
<text x="0.00" y="0.00" font-size="6.0" text-anchor="start" fill="#151515" stroke="#151515" stroke-width="0.08" transform="translate(183.80 318.60) scale(1.052 1)" >CD34<tspan font-size="3.8" dy="-2.4">+</tspan><tspan dy="2.4"> cells</tspan></text>
<line x1="224.60" y1="300.30" x2="234.20" y2="300.30" stroke="#f29a32" stroke-width="0.8" />
<line x1="234.20" y1="280.60" x2="234.20" y2="318.90" stroke="#f29a32" stroke-width="0.8" />
<line x1="234.20" y1="280.60" x2="242.00" y2="280.60" stroke="#f29a32" stroke-width="0.9" />
<path d="M245,280.6 L240.6,278.5 L241.8,280.6 L240.6,282.70000000000005 Z" fill="#f29a32"/>
<line x1="234.20" y1="318.90" x2="242.00" y2="318.90" stroke="#f29a32" stroke-width="0.9" />
<path d="M245,318.9 L240.6,316.79999999999995 L241.8,318.9 L240.6,321.0 Z" fill="#f29a32"/>
<line x1="256.00" y1="272.00" x2="288.60" y2="272.00" stroke="#a8c4dc" stroke-width="0.7" stroke-dasharray="1.2,0.5"/>
<rect x="256.00" y="273.80" width="32.60" height="5.60" fill="#c2e8f5" stroke="none" stroke-width="0.6" />
<line x1="257.00" y1="276.00" x2="287.60" y2="276.00" stroke="#d4f0f8" stroke-width="0.6" />
<line x1="256.00" y1="280.60" x2="288.60" y2="280.60" stroke="#c8d4e4" stroke-width="0.6" stroke-dasharray="1,0.6"/>
<line x1="256.00" y1="307.40" x2="288.60" y2="307.40" stroke="#a8c4dc" stroke-width="0.7" stroke-dasharray="1.2,0.5"/>
<rect x="256.00" y="309.20" width="32.60" height="5.60" fill="#c2e8f5" stroke="none" stroke-width="0.6" />
<line x1="257.00" y1="311.40" x2="287.60" y2="311.40" stroke="#d4f0f8" stroke-width="0.6" />
<line x1="256.00" y1="316.00" x2="288.60" y2="316.00" stroke="#c8d4e4" stroke-width="0.6" stroke-dasharray="1,0.6"/>
<text x="0.00" y="0.00" font-size="6.0" text-anchor="start" fill="#151515" stroke="#151515" stroke-width="0.08" transform="translate(258.60 289.80) scale(1.052 1)" >CD34<tspan font-size="3.8" dy="-2.4">+</tspan><tspan dy="2.4"> cells</tspan></text>
<text x="0.00" y="0.00" font-size="6.0" text-anchor="middle" fill="#151515" stroke="#151515" stroke-width="0.08" transform="translate(275.20 298.10) scale(1.001 1)" >+MSC(Control)</text>
<text x="0.00" y="0.00" font-size="6.0" text-anchor="start" fill="#151515" stroke="#151515" stroke-width="0.08" transform="translate(258.60 327.30) scale(1.052 1)" >CD34<tspan font-size="3.8" dy="-2.4">+</tspan><tspan dy="2.4"> cells</tspan></text>
<text x="0.00" y="0.00" font-size="6.0" text-anchor="middle" fill="#151515" stroke="#151515" stroke-width="0.08" transform="translate(275.40 334.70) scale(1.005 1)" >+MSC(S100A8)</text>
<line x1="305.00" y1="280.90" x2="321.40" y2="280.90" stroke="#f29a32" stroke-width="0.9" />
<path d="M324.4,280.9 L320.0,278.79999999999995 L321.2,280.9 L320.0,283.0 Z" fill="#f29a32"/>
<line x1="305.00" y1="318.60" x2="321.40" y2="318.60" stroke="#f29a32" stroke-width="0.9" />
<path d="M324.4,318.6 L320.0,316.5 L321.2,318.6 L320.0,320.70000000000005 Z" fill="#f29a32"/>
<g transform="translate(312.6,263.0) rotate(43.8)"><rect x="0" y="-1.2" width="2.2" height="2.4" fill="#222"/><line x1="2.2" y1="0" x2="3.6" y2="0" stroke="#333" stroke-width="0.7"/><line x1="3.6" y1="-1.5" x2="3.6" y2="1.5" stroke="#333" stroke-width="0.6"/><rect x="3.6" y="-1.1" width="9" height="2.2" fill="#f2f2f2" stroke="#444" stroke-width="0.45"/><rect x="12.6" y="-0.7" width="1.2" height="1.4" fill="#444"/><line x1="13.8" y1="0" x2="19.66" y2="0" stroke="#555" stroke-width="0.5"/></g>
<g transform="translate(312.6,300.0) rotate(43.8)"><rect x="0" y="-1.2" width="2.2" height="2.4" fill="#222"/><line x1="2.2" y1="0" x2="3.6" y2="0" stroke="#333" stroke-width="0.7"/><line x1="3.6" y1="-1.5" x2="3.6" y2="1.5" stroke="#333" stroke-width="0.6"/><rect x="3.6" y="-1.1" width="9" height="2.2" fill="#f2f2f2" stroke="#444" stroke-width="0.45"/><rect x="12.6" y="-0.7" width="1.2" height="1.4" fill="#444"/><line x1="13.8" y1="0" x2="19.66" y2="0" stroke="#555" stroke-width="0.5"/></g>
<g transform="translate(335.4,272.4)" fill="none" stroke="#666" stroke-width="0.55"><path d="M2,9 C0,6 1,2 5,0.8 C8,-0.4 12,0 15,0.6 C17,-1 19,-0.6 20,0.4 C22,1 23.5,2.6 23.3,3.6 C22.8,4.6 21,5 19.6,5.8 C19,7.6 17.8,9.4 15.8,10 L14.6,11 L12.4,10.4 C9.6,10.8 6,11 4,10.4 Z" fill="#fafafa"/><path d="M2,9 C-0.8,10.6 -1.6,13 0.6,15.2 C2,16.4 5,16.8 9,16.2" stroke="#7a7ab8"/><path d="M15,0.6 C16,2 17,2.8 18.4,2.6"/><path d="M9,10.6 L8.6,11.8 M12.4,10.4 L12.6,11.8"/><path d="M5.5,5.5 C6.5,7.5 8.5,8.8 11,9" stroke="#999" stroke-width="0.45"/><path d="M13,3 C14,5 14.2,7 13.2,9" stroke="#aaa" stroke-width="0.45"/></g>
<circle cx="353.00" cy="277.80" r="0.9" fill="#222" />
<g transform="translate(335.4,310.4)" fill="none" stroke="#666" stroke-width="0.55"><path d="M2,9 C0,6 1,2 5,0.8 C8,-0.4 12,0 15,0.6 C17,-1 19,-0.6 20,0.4 C22,1 23.5,2.6 23.3,3.6 C22.8,4.6 21,5 19.6,5.8 C19,7.6 17.8,9.4 15.8,10 L14.6,11 L12.4,10.4 C9.6,10.8 6,11 4,10.4 Z" fill="#fafafa"/><path d="M2,9 C-0.8,10.6 -1.6,13 0.6,15.2 C2,16.4 5,16.8 9,16.2" stroke="#7a7ab8"/><path d="M15,0.6 C16,2 17,2.8 18.4,2.6"/><path d="M9,10.6 L8.6,11.8 M12.4,10.4 L12.6,11.8"/><path d="M5.5,5.5 C6.5,7.5 8.5,8.8 11,9" stroke="#999" stroke-width="0.45"/><path d="M13,3 C14,5 14.2,7 13.2,9" stroke="#aaa" stroke-width="0.45"/></g>
<circle cx="353.00" cy="315.80" r="0.9" fill="#222" />
<text x="0.00" y="0.00" font-size="6.8" text-anchor="middle" fill="#151515" stroke="#151515" stroke-width="0.08" transform="translate(347.00 295.60) scale(0.909 1)" >NSG</text>
<text x="0.00" y="0.00" font-size="6.8" text-anchor="middle" fill="#151515" stroke="#151515" stroke-width="0.08" transform="translate(347.00 332.90) scale(0.909 1)" >NSG</text>
<line x1="419.40" y1="260.80" x2="419.40" y2="319.30" stroke="#000" stroke-width="1.25" />
<line x1="418.90" y1="318.80" x2="446.60" y2="318.80" stroke="#000" stroke-width="1.25" />
<line x1="417.20" y1="318.80" x2="419.40" y2="318.80" stroke="#111" stroke-width="0.8" />
<text x="415.20" y="320.80" font-size="5.8" text-anchor="end" fill="#0a0a0a" stroke="#0a0a0a" stroke-width="0.16" >0</text>
<line x1="417.20" y1="299.95" x2="419.40" y2="299.95" stroke="#111" stroke-width="0.8" />
<text x="415.20" y="301.95" font-size="5.8" text-anchor="end" fill="#0a0a0a" stroke="#0a0a0a" stroke-width="0.16" >5</text>
<line x1="417.20" y1="281.10" x2="419.40" y2="281.10" stroke="#111" stroke-width="0.8" />
<text x="415.20" y="283.10" font-size="5.8" text-anchor="end" fill="#0a0a0a" stroke="#0a0a0a" stroke-width="0.16" >10</text>
<line x1="417.20" y1="262.25" x2="419.40" y2="262.25" stroke="#111" stroke-width="0.8" />
<text x="415.20" y="264.25" font-size="5.8" text-anchor="end" fill="#0a0a0a" stroke="#0a0a0a" stroke-width="0.16" >15</text>
<rect x="422.80" y="307.11" width="7.60" height="11.69" fill="#e9879a" stroke="none" stroke-width="0.6" />
<line x1="426.60" y1="298.06" x2="426.60" y2="316.16" stroke="#d02848" stroke-width="0.6" />
<line x1="424.80" y1="298.06" x2="428.40" y2="298.06" stroke="#d02848" stroke-width="0.6" />
<line x1="424.80" y1="316.16" x2="428.40" y2="316.16" stroke="#d02848" stroke-width="0.6" />
<circle cx="426.60" cy="294.67" r="1.05" fill="#d02848" />
<circle cx="426.60" cy="301.84" r="1.05" fill="#d02848" />
<circle cx="426.00" cy="312.77" r="1.05" fill="#d02848" />
<circle cx="427.20" cy="312.77" r="1.05" fill="#d02848" />
<line x1="426.60" y1="318.80" x2="426.60" y2="321.40" stroke="#111" stroke-width="0.8" />
<rect x="434.90" y="292.41" width="8.00" height="26.39" fill="#86abd0" stroke="none" stroke-width="0.6" />
<line x1="438.90" y1="277.33" x2="438.90" y2="307.49" stroke="#1c4f8a" stroke-width="0.6" />
<line x1="437.10" y1="277.33" x2="440.70" y2="277.33" stroke="#1c4f8a" stroke-width="0.6" />
<line x1="437.10" y1="307.49" x2="440.70" y2="307.49" stroke="#1c4f8a" stroke-width="0.6" />
<circle cx="438.90" cy="273.56" r="1.05" fill="#1c4f8a" />
<circle cx="438.90" cy="291.28" r="1.05" fill="#1c4f8a" />
<circle cx="438.90" cy="300.33" r="1.05" fill="#1c4f8a" />
<circle cx="438.90" cy="305.98" r="1.05" fill="#1c4f8a" />
<line x1="438.90" y1="318.80" x2="438.90" y2="321.40" stroke="#111" stroke-width="0.8" />
<line x1="426.30" y1="266.90" x2="439.80" y2="266.90" stroke="#333" stroke-width="0.6" />
<text x="433.05" y="265.90" font-size="5.4" text-anchor="middle" fill="#333" stroke="#333" stroke-width="0.16" >*</text>
<text x="0.00" y="0.00" font-size="5.6" text-anchor="end" fill="#0a0a0a" stroke="#0a0a0a" stroke-width="0.16" transform="translate(429.00 325.30) rotate(-45)" >Control</text>
<text x="0.00" y="0.00" font-size="5.6" text-anchor="end" fill="#0a0a0a" stroke="#0a0a0a" stroke-width="0.16" transform="translate(441.40 325.30) rotate(-45)" >S100A8</text>
<text x="0.00" y="0.00" font-size="6.6" text-anchor="middle" font-weight="bold" fill="#0a0a0a" stroke="#0a0a0a" stroke-width="0.32" transform="translate(401.40 290.30) rotate(-90) scale(0.810 1)" >WBC (10<tspan font-size="3.8" dy="-2.2">9</tspan><tspan dy="2.2">/L)</tspan></text>
<text x="433.40" y="254.40" font-size="8.0" text-anchor="middle" fill="#0a0a0a" stroke="#0a0a0a" stroke-width="0.16" >PB</text>
<g filter="url(#bl4)"><path d="M54.699999999999996,426.0 L54.699999999999996,405.2 C55.3,400.7 59.4,399.2 63.4,399.2 C68.4,399.2 72.8,402.2 73.3,408.2 C73.6,412.2 72.8,416.8 72.8,417.8 C77.8,417.3 85.8,417.0 88.8,417.8 C90.3,418.8 90.3,422.0 88.3,423.0 C83.8,423.6 75.8,423.6 72.8,424.0 L71.8,426.0 Z" fill="#1530d0"/><path d="M56.099999999999994,424.8 L56.099999999999994,406.7 C56.8,402.7 59.4,401.4 63.4,401.4 C67.4,401.4 70.8,403.7 71.0,408.2 C71.2,412.2 71.0,418.8 71.8,422.0 L70.6,424.8 Z" fill="#10b0f0"/><path d="M71.3,419.1 C77.8,418.8 84.8,418.7 87.0,419.3 C88.0,420.0 88.0,421.2 86.6,421.8 C82.8,422.2 75.8,422.2 71.3,422.2 Z" fill="#2a78f0"/><ellipse cx="63.4" cy="412.5" rx="6.6" ry="8.6" fill="#2ccc70"/><ellipse cx="63.4" cy="412.5" rx="3.70" ry="4.30" fill="#e6e020"/><ellipse cx="63.4" cy="412.5" rx="2.64" ry="2.92" fill="#f07818"/><ellipse cx="63.4" cy="412.5" rx="1.85" ry="1.72" fill="#e01010"/></g>
<g filter="url(#bl4)"><path d="M135.9,426.0 L135.9,405.6 C136.5,401.1 141.4,399.6 145.4,399.6 C150.4,399.6 155.8,402.6 156.3,408.6 C156.60000000000002,412.6 155.8,415.8 155.8,416.8 C160.8,416.3 169.4,416.0 172.4,416.8 C173.9,417.8 173.9,423.2 171.9,424.2 C167.4,424.8 158.8,424.8 155.8,425.2 L154.8,426.0 Z" fill="#1530d0"/><path d="M137.3,424.8 L137.3,407.1 C138.0,403.1 141.4,401.8 145.4,401.8 C149.4,401.8 153.8,404.1 154.0,408.6 C154.20000000000002,412.6 154.0,417.8 154.8,423.2 L153.60000000000002,424.8 Z" fill="#10b0f0"/><path d="M154.3,418.1 C160.8,417.8 168.4,417.7 170.6,418.3 C171.6,419.0 171.6,422.4 170.20000000000002,423.0 C166.4,423.4 158.8,423.4 154.3,423.4 Z" fill="#18b8f0"/><ellipse cx="145.4" cy="411.2" rx="7.4" ry="9.0" fill="#2ccc70"/><ellipse cx="145.4" cy="411.2" rx="4.14" ry="4.50" fill="#e6e020"/><ellipse cx="145.4" cy="411.2" rx="2.96" ry="3.06" fill="#f07818"/><ellipse cx="145.4" cy="411.2" rx="2.07" ry="1.80" fill="#e01010"/></g>
<rect x="54.20" y="371.50" width="53.80" height="54.70" fill="none" stroke="#444" stroke-width="0.8" />
<line x1="52.20" y1="426.20" x2="54.20" y2="426.20" stroke="#333" stroke-width="0.6" />
<text x="49.20" y="428.20" font-size="5.6" text-anchor="end" fill="#0a0a0a" stroke="#0a0a0a" stroke-width="0.16" >0</text>
<line x1="52.20" y1="415.80" x2="54.20" y2="415.80" stroke="#333" stroke-width="0.6" />
<text x="49.20" y="417.80" font-size="5.6" text-anchor="end" fill="#0a0a0a" stroke="#0a0a0a" stroke-width="0.16" >50K</text>
<line x1="52.20" y1="405.40" x2="54.20" y2="405.40" stroke="#333" stroke-width="0.6" />
<text x="49.20" y="407.40" font-size="5.6" text-anchor="end" fill="#0a0a0a" stroke="#0a0a0a" stroke-width="0.16" >100K</text>
<line x1="52.20" y1="394.90" x2="54.20" y2="394.90" stroke="#333" stroke-width="0.6" />
<text x="49.20" y="396.90" font-size="5.6" text-anchor="end" fill="#0a0a0a" stroke="#0a0a0a" stroke-width="0.16" >150K</text>
<line x1="52.20" y1="384.50" x2="54.20" y2="384.50" stroke="#333" stroke-width="0.6" />
<text x="49.20" y="386.50" font-size="5.6" text-anchor="end" fill="#0a0a0a" stroke="#0a0a0a" stroke-width="0.16" >200K</text>
<line x1="52.20" y1="374.00" x2="54.20" y2="374.00" stroke="#333" stroke-width="0.6" />
<text x="49.20" y="376.00" font-size="5.6" text-anchor="end" fill="#0a0a0a" stroke="#0a0a0a" stroke-width="0.16" >250K</text>
<line x1="53.20" y1="423.46" x2="54.20" y2="423.46" stroke="#666" stroke-width="0.35" />
<line x1="53.20" y1="420.73" x2="54.20" y2="420.73" stroke="#666" stroke-width="0.35" />
<line x1="53.20" y1="418.00" x2="54.20" y2="418.00" stroke="#666" stroke-width="0.35" />
<line x1="53.20" y1="415.26" x2="54.20" y2="415.26" stroke="#666" stroke-width="0.35" />
<line x1="53.20" y1="412.52" x2="54.20" y2="412.52" stroke="#666" stroke-width="0.35" />
<line x1="53.20" y1="409.79" x2="54.20" y2="409.79" stroke="#666" stroke-width="0.35" />
<line x1="53.20" y1="407.06" x2="54.20" y2="407.06" stroke="#666" stroke-width="0.35" />
<line x1="53.20" y1="404.32" x2="54.20" y2="404.32" stroke="#666" stroke-width="0.35" />
<line x1="53.20" y1="401.58" x2="54.20" y2="401.58" stroke="#666" stroke-width="0.35" />
<line x1="53.20" y1="398.85" x2="54.20" y2="398.85" stroke="#666" stroke-width="0.35" />
<line x1="53.20" y1="396.12" x2="54.20" y2="396.12" stroke="#666" stroke-width="0.35" />
<line x1="53.20" y1="393.38" x2="54.20" y2="393.38" stroke="#666" stroke-width="0.35" />
<line x1="53.20" y1="390.64" x2="54.20" y2="390.64" stroke="#666" stroke-width="0.35" />
<line x1="53.20" y1="387.91" x2="54.20" y2="387.91" stroke="#666" stroke-width="0.35" />
<line x1="53.20" y1="385.18" x2="54.20" y2="385.18" stroke="#666" stroke-width="0.35" />
<line x1="53.20" y1="382.44" x2="54.20" y2="382.44" stroke="#666" stroke-width="0.35" />
<line x1="53.20" y1="379.70" x2="54.20" y2="379.70" stroke="#666" stroke-width="0.35" />
<line x1="53.20" y1="376.97" x2="54.20" y2="376.97" stroke="#666" stroke-width="0.35" />
<line x1="53.20" y1="374.24" x2="54.20" y2="374.24" stroke="#666" stroke-width="0.35" />
<line x1="63.20" y1="426.20" x2="63.20" y2="428.00" stroke="#333" stroke-width="0.6" />
<text x="63.20" y="437.00" font-size="5.8" text-anchor="middle" fill="#0a0a0a" stroke="#0a0a0a" stroke-width="0.16" >0</text>
<line x1="84.50" y1="426.20" x2="84.50" y2="428.00" stroke="#333" stroke-width="0.6" />
<text x="84.50" y="437.00" font-size="5.8" text-anchor="middle" fill="#0a0a0a" stroke="#0a0a0a" stroke-width="0.16" >10<tspan font-size="3.6" dy="-2.2">3</tspan><tspan dy="2.2"></tspan></text>
<line x1="101.00" y1="426.20" x2="101.00" y2="428.00" stroke="#333" stroke-width="0.6" />
<text x="101.00" y="437.00" font-size="5.8" text-anchor="middle" fill="#0a0a0a" stroke="#0a0a0a" stroke-width="0.16" >10<tspan font-size="3.6" dy="-2.2">4</tspan><tspan dy="2.2"></tspan></text>
<line x1="57.19" y1="426.20" x2="57.19" y2="427.20" stroke="#555" stroke-width="0.35" />
<line x1="60.18" y1="426.20" x2="60.18" y2="427.20" stroke="#555" stroke-width="0.35" />
<line x1="63.17" y1="426.20" x2="63.17" y2="427.20" stroke="#555" stroke-width="0.35" />
<line x1="66.16" y1="426.20" x2="66.16" y2="427.20" stroke="#555" stroke-width="0.35" />
<line x1="69.14" y1="426.20" x2="69.14" y2="427.20" stroke="#555" stroke-width="0.35" />
<line x1="72.13" y1="426.20" x2="72.13" y2="427.20" stroke="#555" stroke-width="0.35" />
<line x1="75.12" y1="426.20" x2="75.12" y2="427.20" stroke="#555" stroke-width="0.35" />
<line x1="78.11" y1="426.20" x2="78.11" y2="427.20" stroke="#555" stroke-width="0.35" />
<line x1="81.10" y1="426.20" x2="81.10" y2="427.20" stroke="#555" stroke-width="0.35" />
<line x1="84.09" y1="426.20" x2="84.09" y2="427.20" stroke="#555" stroke-width="0.35" />
<line x1="87.08" y1="426.20" x2="87.08" y2="427.20" stroke="#555" stroke-width="0.35" />
<line x1="90.07" y1="426.20" x2="90.07" y2="427.20" stroke="#555" stroke-width="0.35" />
<line x1="93.06" y1="426.20" x2="93.06" y2="427.20" stroke="#555" stroke-width="0.35" />
<line x1="96.04" y1="426.20" x2="96.04" y2="427.20" stroke="#555" stroke-width="0.35" />
<line x1="99.03" y1="426.20" x2="99.03" y2="427.20" stroke="#555" stroke-width="0.35" />
<line x1="102.02" y1="426.20" x2="102.02" y2="427.20" stroke="#555" stroke-width="0.35" />
<line x1="105.01" y1="426.20" x2="105.01" y2="427.20" stroke="#555" stroke-width="0.35" />
<path d="M71.8,426.2 L71.8,383.4 L102.3,383.4 L102.3,426.2" fill="none" stroke="#555" stroke-width="0.7"/>
<text x="91.40" y="380.20" font-size="6.0" text-anchor="middle" fill="#0a0a0a" stroke="#0a0a0a" stroke-width="0.16" >5.53%</text>
<text x="0.00" y="0.00" font-size="5.8" text-anchor="middle" fill="#0a0a0a" stroke="#0a0a0a" stroke-width="0.16" transform="translate(81.20 369.00) scale(0.953 1)" >Ctrl</text>
<rect x="135.00" y="371.50" width="54.20" height="54.70" fill="none" stroke="#444" stroke-width="0.8" />
<line x1="133.00" y1="425.70" x2="135.00" y2="425.70" stroke="#333" stroke-width="0.6" />
<text x="129.60" y="427.70" font-size="5.6" text-anchor="end" fill="#0a0a0a" stroke="#0a0a0a" stroke-width="0.16" >0</text>
<line x1="133.00" y1="415.40" x2="135.00" y2="415.40" stroke="#333" stroke-width="0.6" />
<text x="129.60" y="417.40" font-size="5.6" text-anchor="end" fill="#0a0a0a" stroke="#0a0a0a" stroke-width="0.16" >50K</text>
<line x1="133.00" y1="405.00" x2="135.00" y2="405.00" stroke="#333" stroke-width="0.6" />
<text x="129.60" y="407.00" font-size="5.6" text-anchor="end" fill="#0a0a0a" stroke="#0a0a0a" stroke-width="0.16" >100K</text>
<line x1="133.00" y1="394.70" x2="135.00" y2="394.70" stroke="#333" stroke-width="0.6" />
<text x="129.60" y="396.70" font-size="5.6" text-anchor="end" fill="#0a0a0a" stroke="#0a0a0a" stroke-width="0.16" >150K</text>
<line x1="133.00" y1="384.30" x2="135.00" y2="384.30" stroke="#333" stroke-width="0.6" />
<text x="129.60" y="386.30" font-size="5.6" text-anchor="end" fill="#0a0a0a" stroke="#0a0a0a" stroke-width="0.16" >200K</text>
<line x1="133.00" y1="374.00" x2="135.00" y2="374.00" stroke="#333" stroke-width="0.6" />
<text x="129.60" y="376.00" font-size="5.6" text-anchor="end" fill="#0a0a0a" stroke="#0a0a0a" stroke-width="0.16" >250K</text>
<line x1="134.00" y1="423.46" x2="135.00" y2="423.46" stroke="#666" stroke-width="0.35" />
<line x1="134.00" y1="420.73" x2="135.00" y2="420.73" stroke="#666" stroke-width="0.35" />
<line x1="134.00" y1="418.00" x2="135.00" y2="418.00" stroke="#666" stroke-width="0.35" />
<line x1="134.00" y1="415.26" x2="135.00" y2="415.26" stroke="#666" stroke-width="0.35" />
<line x1="134.00" y1="412.52" x2="135.00" y2="412.52" stroke="#666" stroke-width="0.35" />
<line x1="134.00" y1="409.79" x2="135.00" y2="409.79" stroke="#666" stroke-width="0.35" />
<line x1="134.00" y1="407.06" x2="135.00" y2="407.06" stroke="#666" stroke-width="0.35" />
<line x1="134.00" y1="404.32" x2="135.00" y2="404.32" stroke="#666" stroke-width="0.35" />
<line x1="134.00" y1="401.58" x2="135.00" y2="401.58" stroke="#666" stroke-width="0.35" />
<line x1="134.00" y1="398.85" x2="135.00" y2="398.85" stroke="#666" stroke-width="0.35" />
<line x1="134.00" y1="396.12" x2="135.00" y2="396.12" stroke="#666" stroke-width="0.35" />
<line x1="134.00" y1="393.38" x2="135.00" y2="393.38" stroke="#666" stroke-width="0.35" />
<line x1="134.00" y1="390.64" x2="135.00" y2="390.64" stroke="#666" stroke-width="0.35" />
<line x1="134.00" y1="387.91" x2="135.00" y2="387.91" stroke="#666" stroke-width="0.35" />
<line x1="134.00" y1="385.18" x2="135.00" y2="385.18" stroke="#666" stroke-width="0.35" />
<line x1="134.00" y1="382.44" x2="135.00" y2="382.44" stroke="#666" stroke-width="0.35" />
<line x1="134.00" y1="379.70" x2="135.00" y2="379.70" stroke="#666" stroke-width="0.35" />
<line x1="134.00" y1="376.97" x2="135.00" y2="376.97" stroke="#666" stroke-width="0.35" />
<line x1="134.00" y1="374.24" x2="135.00" y2="374.24" stroke="#666" stroke-width="0.35" />
<line x1="145.00" y1="426.20" x2="145.00" y2="428.00" stroke="#333" stroke-width="0.6" />
<text x="145.00" y="437.00" font-size="5.8" text-anchor="middle" fill="#0a0a0a" stroke="#0a0a0a" stroke-width="0.16" >0</text>
<line x1="166.00" y1="426.20" x2="166.00" y2="428.00" stroke="#333" stroke-width="0.6" />
<text x="166.00" y="437.00" font-size="5.8" text-anchor="middle" fill="#0a0a0a" stroke="#0a0a0a" stroke-width="0.16" >10<tspan font-size="3.6" dy="-2.2">3</tspan><tspan dy="2.2"></tspan></text>
<line x1="183.00" y1="426.20" x2="183.00" y2="428.00" stroke="#333" stroke-width="0.6" />
<text x="183.00" y="437.00" font-size="5.8" text-anchor="middle" fill="#0a0a0a" stroke="#0a0a0a" stroke-width="0.16" >10<tspan font-size="3.6" dy="-2.2">4</tspan><tspan dy="2.2"></tspan></text>
<line x1="138.01" y1="426.20" x2="138.01" y2="427.20" stroke="#555" stroke-width="0.35" />
<line x1="141.02" y1="426.20" x2="141.02" y2="427.20" stroke="#555" stroke-width="0.35" />
<line x1="144.03" y1="426.20" x2="144.03" y2="427.20" stroke="#555" stroke-width="0.35" />
<line x1="147.04" y1="426.20" x2="147.04" y2="427.20" stroke="#555" stroke-width="0.35" />
<line x1="150.06" y1="426.20" x2="150.06" y2="427.20" stroke="#555" stroke-width="0.35" />
<line x1="153.07" y1="426.20" x2="153.07" y2="427.20" stroke="#555" stroke-width="0.35" />
<line x1="156.08" y1="426.20" x2="156.08" y2="427.20" stroke="#555" stroke-width="0.35" />
<line x1="159.09" y1="426.20" x2="159.09" y2="427.20" stroke="#555" stroke-width="0.35" />
<line x1="162.10" y1="426.20" x2="162.10" y2="427.20" stroke="#555" stroke-width="0.35" />
<line x1="165.11" y1="426.20" x2="165.11" y2="427.20" stroke="#555" stroke-width="0.35" />
<line x1="168.12" y1="426.20" x2="168.12" y2="427.20" stroke="#555" stroke-width="0.35" />
<line x1="171.13" y1="426.20" x2="171.13" y2="427.20" stroke="#555" stroke-width="0.35" />
<line x1="174.14" y1="426.20" x2="174.14" y2="427.20" stroke="#555" stroke-width="0.35" />
<line x1="177.16" y1="426.20" x2="177.16" y2="427.20" stroke="#555" stroke-width="0.35" />
<line x1="180.17" y1="426.20" x2="180.17" y2="427.20" stroke="#555" stroke-width="0.35" />
<line x1="183.18" y1="426.20" x2="183.18" y2="427.20" stroke="#555" stroke-width="0.35" />
<line x1="186.19" y1="426.20" x2="186.19" y2="427.20" stroke="#555" stroke-width="0.35" />
<path d="M153.7,426.2 L153.7,383.4 L183.7,383.4 L183.7,426.2" fill="none" stroke="#555" stroke-width="0.7"/>
<text x="172.40" y="380.40" font-size="6.0" text-anchor="middle" fill="#0a0a0a" stroke="#0a0a0a" stroke-width="0.16" >12.9%</text>
<text x="162.00" y="369.20" font-size="6.2" text-anchor="middle" fill="#0a0a0a" stroke="#0a0a0a" stroke-width="0.16" >S100A8</text>
<text x="0.00" y="0.00" font-size="7.6" text-anchor="middle" font-weight="bold" fill="#0a0a0a" stroke="#0a0a0a" stroke-width="0.32" transform="translate(173.10 453.30) scale(0.698 1)" >Human CD45</text>
<text x="0.00" y="0.00" font-size="7.0" text-anchor="middle" font-weight="bold" fill="#0a0a0a" stroke="#0a0a0a" stroke-width="0.32" transform="translate(23.60 409.50) rotate(-90) scale(0.652 1)" >SSC-A</text>
<line x1="226.80" y1="371.50" x2="226.80" y2="430.50" stroke="#000" stroke-width="1.25" />
<line x1="226.30" y1="430.00" x2="254.80" y2="430.00" stroke="#000" stroke-width="1.25" />
<line x1="224.60" y1="430.00" x2="226.80" y2="430.00" stroke="#111" stroke-width="0.8" />
<text x="221.00" y="432.00" font-size="5.8" text-anchor="end" fill="#0a0a0a" stroke="#0a0a0a" stroke-width="0.16" >0</text>
<line x1="224.60" y1="416.00" x2="226.80" y2="416.00" stroke="#111" stroke-width="0.8" />
<text x="221.00" y="418.00" font-size="5.8" text-anchor="end" fill="#0a0a0a" stroke="#0a0a0a" stroke-width="0.16" >5</text>
<line x1="224.60" y1="402.00" x2="226.80" y2="402.00" stroke="#111" stroke-width="0.8" />
<text x="221.00" y="404.00" font-size="5.8" text-anchor="end" fill="#0a0a0a" stroke="#0a0a0a" stroke-width="0.16" >10</text>
<line x1="224.60" y1="388.00" x2="226.80" y2="388.00" stroke="#111" stroke-width="0.8" />
<text x="221.00" y="390.00" font-size="5.8" text-anchor="end" fill="#0a0a0a" stroke="#0a0a0a" stroke-width="0.16" >15</text>
<line x1="224.60" y1="374.00" x2="226.80" y2="374.00" stroke="#111" stroke-width="0.8" />
<text x="221.00" y="376.00" font-size="5.8" text-anchor="end" fill="#0a0a0a" stroke="#0a0a0a" stroke-width="0.16" >20</text>
<rect x="231.10" y="412.92" width="7.80" height="17.08" fill="#e9879a" stroke="none" stroke-width="0.6" />
<line x1="235.00" y1="401.72" x2="235.00" y2="424.12" stroke="#d02848" stroke-width="0.6" />
<line x1="233.20" y1="401.72" x2="236.80" y2="401.72" stroke="#d02848" stroke-width="0.6" />
<line x1="233.20" y1="424.12" x2="236.80" y2="424.12" stroke="#d02848" stroke-width="0.6" />
<circle cx="235.00" cy="401.72" r="1.05" fill="#d02848" />
<circle cx="235.00" cy="413.76" r="1.05" fill="#d02848" />
<circle cx="234.40" cy="418.24" r="1.05" fill="#d02848" />
<circle cx="235.00" cy="421.88" r="1.05" fill="#d02848" />
<line x1="235.00" y1="430.00" x2="235.00" y2="432.60" stroke="#111" stroke-width="0.8" />
<rect x="243.30" y="393.88" width="7.80" height="36.12" fill="#86abd0" stroke="none" stroke-width="0.6" />
<line x1="247.20" y1="384.08" x2="247.20" y2="403.68" stroke="#1c4f8a" stroke-width="0.6" />
<line x1="245.40" y1="384.08" x2="249.00" y2="384.08" stroke="#1c4f8a" stroke-width="0.6" />
<line x1="245.40" y1="403.68" x2="249.00" y2="403.68" stroke="#1c4f8a" stroke-width="0.6" />
<circle cx="247.20" cy="379.60" r="1.05" fill="#1c4f8a" />
<circle cx="247.20" cy="394.44" r="1.05" fill="#1c4f8a" />
<circle cx="247.20" cy="397.80" r="1.05" fill="#1c4f8a" />
<circle cx="247.20" cy="402.00" r="1.05" fill="#1c4f8a" />
<line x1="247.20" y1="430.00" x2="247.20" y2="432.60" stroke="#111" stroke-width="0.8" />
<line x1="234.00" y1="377.30" x2="248.20" y2="377.30" stroke="#333" stroke-width="0.6" />
<text x="241.10" y="376.30" font-size="5.4" text-anchor="middle" fill="#333" stroke="#333" stroke-width="0.16" >**</text>
<text x="0.00" y="0.00" font-size="5.6" text-anchor="end" fill="#0a0a0a" stroke="#0a0a0a" stroke-width="0.16" transform="translate(237.40 439.00) rotate(-45)" >Control</text>
<text x="0.00" y="0.00" font-size="5.6" text-anchor="end" fill="#0a0a0a" stroke="#0a0a0a" stroke-width="0.16" transform="translate(249.60 439.00) rotate(-45)" >S100A8</text>
<text x="0.00" y="0.00" font-size="6.6" text-anchor="middle" font-weight="bold" fill="#0a0a0a" stroke="#0a0a0a" stroke-width="0.32" transform="translate(209.00 401.00) rotate(-90) scale(0.798 1)" >Human CD45<tspan font-size="3.8" dy="-2.2">+</tspan><tspan dy="2.2"> cells</tspan></text>
<text x="241.20" y="366.00" font-size="8.0" text-anchor="middle" fill="#0a0a0a" stroke="#0a0a0a" stroke-width="0.16" >BM</text>
<line x1="29.30" y1="384.50" x2="29.30" y2="442.40" stroke="#000" stroke-width="1.3" />
<line x1="28.65" y1="442.40" x2="183.30" y2="442.40" stroke="#000" stroke-width="1.3" />
<path d="M29.3,378.4 L26.6,385.0 L32.0,385.0 Z" fill="#111"/>
<path d="M189.4,442.4 L182.8,439.7 L182.8,445.09999999999997 Z" fill="#111"/>
<g filter="url(#bl4)"><path d="M312.6,426 L312.6,401.5 C316,400.3 326,400.2 330.5,400.8 C332,402.5 331.8,407 331.6,410.6 C334,410.2 337,409.8 340.5,409.8 C343.5,409.8 345,410.6 346.5,411.6 C349,412 350.6,412.8 350.4,414.2 C349.6,416 349.6,418 350,419.2 C349.4,421.4 348,423.6 347.2,426 Z" fill="#1838d8"/><path d="M313.4,425.3 L313.4,402.4 C317,401.4 325.5,401.4 329.4,402 C330.6,404 330.4,408 330.4,411.6 C333.5,411.2 337,410.8 340.5,410.8 C343,410.8 344.6,411.6 346,412.4 C348.2,413 349.3,413.6 349,414.8 C348.4,416.5 348.4,418 348.6,419.2 C348,421 347,423.2 346.2,425.3 Z" fill="#10b4f0"/><ellipse cx="322.0" cy="410.0" rx="6.8" ry="7.0" fill="#2ccc70"/><ellipse cx="321.4" cy="420.6" rx="6.4" ry="3.6" fill="#2ccc70"/><ellipse cx="340.2" cy="418.0" rx="8.0" ry="4.0" transform="rotate(-12 340.2 418.0)" fill="#2ccc70"/><ellipse cx="322.3" cy="409.4" rx="3.8" ry="3.8" fill="#e8e020"/><ellipse cx="321.4" cy="420.4" rx="3.4" ry="2.0" fill="#e8d020"/><ellipse cx="340.6" cy="417.7" rx="4.4" ry="2.0" transform="rotate(-12 340.6 417.7)" fill="#e8c020"/><ellipse cx="322.4" cy="409.2" rx="2.4" ry="2.2" fill="#e82810"/><ellipse cx="321.2" cy="420.4" rx="1.8" ry="1.1" fill="#e03010"/><ellipse cx="340.8" cy="417.5" rx="2.2" ry="1.1" fill="#e03010"/><rect x="328.4" y="403" width="1.8" height="22" fill="#10c8e8"/></g>
<g filter="url(#bl4)"><path d="M392.6,426 L392.6,401.8 C397,400.6 407,400.4 412.6,401 C413.6,403 413.4,407 413.2,410.6 C416,410 421,409.4 424.4,409.6 C427,411.4 429.6,413.8 430.6,416.2 C430,418.6 429,420.6 428.8,421.4 C427,423 425,424.8 424,426 Z" fill="#1838d8"/><path d="M393.4,425.3 L393.4,402.6 C397.5,401.6 406.5,401.4 411.6,402 C412.4,404 412.2,408 412.2,411.6 C415.5,411 420.5,410.5 423.6,410.6 C426,412.2 428.2,414.2 429.2,416.4 C428.6,418.4 427.8,420 427.4,421 C425.8,422.6 424,424 423.2,425.3 Z" fill="#10b4f0"/><ellipse cx="401.8" cy="409.0" rx="6.6" ry="6.8" fill="#40d468"/><ellipse cx="401.8" cy="408.6" rx="3.2" ry="3.4" fill="#90dc48"/><path d="M395.0,423.2 C396,419.4 404,417.4 414,416.2 C420,415.2 425,414.6 427,416 C428,418.6 426,421 422,422.2 C414,424 403,424.6 396,424.6 Z" fill="#2ccc70"/><ellipse cx="411.5" cy="420.0" rx="10" ry="2.0" transform="rotate(-9 411.5 420.0)" fill="#e6e020"/><ellipse cx="417.4" cy="418.8" rx="4.4" ry="1.5" transform="rotate(-12 417.4 418.8)" fill="#f06010"/><ellipse cx="418.0" cy="418.6" rx="2.6" ry="1.0" transform="rotate(-12 418 418.6)" fill="#d81010"/></g>
<rect x="312.30" y="371.40" width="54.70" height="54.80" fill="none" stroke="#444" stroke-width="0.8" />
<line x1="310.30" y1="426.20" x2="312.30" y2="426.20" stroke="#333" stroke-width="0.6" />
<text x="307.20" y="428.20" font-size="5.6" text-anchor="end" fill="#0a0a0a" stroke="#0a0a0a" stroke-width="0.16" >0</text>
<line x1="310.30" y1="412.20" x2="312.30" y2="412.20" stroke="#333" stroke-width="0.6" />
<text x="307.20" y="414.20" font-size="5.6" text-anchor="end" fill="#0a0a0a" stroke="#0a0a0a" stroke-width="0.16" >50K</text>
<line x1="310.30" y1="397.90" x2="312.30" y2="397.90" stroke="#333" stroke-width="0.6" />
<text x="307.20" y="399.90" font-size="5.6" text-anchor="end" fill="#0a0a0a" stroke="#0a0a0a" stroke-width="0.16" >100K</text>
<line x1="310.30" y1="383.90" x2="312.30" y2="383.90" stroke="#333" stroke-width="0.6" />
<text x="307.20" y="385.90" font-size="5.6" text-anchor="end" fill="#0a0a0a" stroke="#0a0a0a" stroke-width="0.16" >150K</text>
<line x1="311.30" y1="423.46" x2="312.30" y2="423.46" stroke="#666" stroke-width="0.35" />
<line x1="311.30" y1="420.72" x2="312.30" y2="420.72" stroke="#666" stroke-width="0.35" />
<line x1="311.30" y1="417.98" x2="312.30" y2="417.98" stroke="#666" stroke-width="0.35" />
<line x1="311.30" y1="415.24" x2="312.30" y2="415.24" stroke="#666" stroke-width="0.35" />
<line x1="311.30" y1="412.50" x2="312.30" y2="412.50" stroke="#666" stroke-width="0.35" />
<line x1="311.30" y1="409.76" x2="312.30" y2="409.76" stroke="#666" stroke-width="0.35" />
<line x1="311.30" y1="407.02" x2="312.30" y2="407.02" stroke="#666" stroke-width="0.35" />
<line x1="311.30" y1="404.28" x2="312.30" y2="404.28" stroke="#666" stroke-width="0.35" />
<line x1="311.30" y1="401.54" x2="312.30" y2="401.54" stroke="#666" stroke-width="0.35" />
<line x1="311.30" y1="398.80" x2="312.30" y2="398.80" stroke="#666" stroke-width="0.35" />
<line x1="311.30" y1="396.06" x2="312.30" y2="396.06" stroke="#666" stroke-width="0.35" />
<line x1="311.30" y1="393.32" x2="312.30" y2="393.32" stroke="#666" stroke-width="0.35" />
<line x1="311.30" y1="390.58" x2="312.30" y2="390.58" stroke="#666" stroke-width="0.35" />
<line x1="311.30" y1="387.84" x2="312.30" y2="387.84" stroke="#666" stroke-width="0.35" />
<line x1="311.30" y1="385.10" x2="312.30" y2="385.10" stroke="#666" stroke-width="0.35" />
<line x1="311.30" y1="382.36" x2="312.30" y2="382.36" stroke="#666" stroke-width="0.35" />
<line x1="311.30" y1="379.62" x2="312.30" y2="379.62" stroke="#666" stroke-width="0.35" />
<line x1="311.30" y1="376.88" x2="312.30" y2="376.88" stroke="#666" stroke-width="0.35" />
<line x1="311.30" y1="374.14" x2="312.30" y2="374.14" stroke="#666" stroke-width="0.35" />
<line x1="321.40" y1="426.20" x2="321.40" y2="428.00" stroke="#333" stroke-width="0.6" />
<text x="321.40" y="437.00" font-size="5.8" text-anchor="middle" fill="#0a0a0a" stroke="#0a0a0a" stroke-width="0.16" >0</text>
<line x1="343.50" y1="426.20" x2="343.50" y2="428.00" stroke="#333" stroke-width="0.6" />
<text x="343.50" y="437.00" font-size="5.8" text-anchor="middle" fill="#0a0a0a" stroke="#0a0a0a" stroke-width="0.16" >10<tspan font-size="3.6" dy="-2.2">3</tspan><tspan dy="2.2"></tspan></text>
<line x1="360.20" y1="426.20" x2="360.20" y2="428.00" stroke="#333" stroke-width="0.6" />
<text x="360.20" y="437.00" font-size="5.8" text-anchor="middle" fill="#0a0a0a" stroke="#0a0a0a" stroke-width="0.16" >10<tspan font-size="3.6" dy="-2.2">4</tspan><tspan dy="2.2"></tspan></text>
<line x1="315.34" y1="426.20" x2="315.34" y2="427.20" stroke="#555" stroke-width="0.35" />
<line x1="318.38" y1="426.20" x2="318.38" y2="427.20" stroke="#555" stroke-width="0.35" />
<line x1="321.42" y1="426.20" x2="321.42" y2="427.20" stroke="#555" stroke-width="0.35" />
<line x1="324.46" y1="426.20" x2="324.46" y2="427.20" stroke="#555" stroke-width="0.35" />
<line x1="327.49" y1="426.20" x2="327.49" y2="427.20" stroke="#555" stroke-width="0.35" />
<line x1="330.53" y1="426.20" x2="330.53" y2="427.20" stroke="#555" stroke-width="0.35" />
<line x1="333.57" y1="426.20" x2="333.57" y2="427.20" stroke="#555" stroke-width="0.35" />
<line x1="336.61" y1="426.20" x2="336.61" y2="427.20" stroke="#555" stroke-width="0.35" />
<line x1="339.65" y1="426.20" x2="339.65" y2="427.20" stroke="#555" stroke-width="0.35" />
<line x1="342.69" y1="426.20" x2="342.69" y2="427.20" stroke="#555" stroke-width="0.35" />
<line x1="345.73" y1="426.20" x2="345.73" y2="427.20" stroke="#555" stroke-width="0.35" />
<line x1="348.77" y1="426.20" x2="348.77" y2="427.20" stroke="#555" stroke-width="0.35" />
<line x1="351.81" y1="426.20" x2="351.81" y2="427.20" stroke="#555" stroke-width="0.35" />
<line x1="354.84" y1="426.20" x2="354.84" y2="427.20" stroke="#555" stroke-width="0.35" />
<line x1="357.88" y1="426.20" x2="357.88" y2="427.20" stroke="#555" stroke-width="0.35" />
<line x1="360.92" y1="426.20" x2="360.92" y2="427.20" stroke="#555" stroke-width="0.35" />
<line x1="363.96" y1="426.20" x2="363.96" y2="427.20" stroke="#555" stroke-width="0.35" />
<path d="M329.2,426.2 L329.2,383.4 L359.4,383.4 L359.4,426.2" fill="none" stroke="#555" stroke-width="0.7"/>
<text x="349.60" y="380.60" font-size="6.0" text-anchor="middle" fill="#0a0a0a" stroke="#0a0a0a" stroke-width="0.16" >32.1%</text>
<text x="340.00" y="366.80" font-size="8.3" text-anchor="middle" fill="#0a0a0a" stroke="#0a0a0a" stroke-width="0.16" >Ctrl</text>
<rect x="392.30" y="371.40" width="55.00" height="54.80" fill="none" stroke="#444" stroke-width="0.8" />
<line x1="390.30" y1="425.70" x2="392.30" y2="425.70" stroke="#333" stroke-width="0.6" />
<text x="389.20" y="427.70" font-size="5.6" text-anchor="end" fill="#0a0a0a" stroke="#0a0a0a" stroke-width="0.16" >0</text>
<line x1="390.30" y1="412.10" x2="392.30" y2="412.10" stroke="#333" stroke-width="0.6" />
<text x="389.20" y="414.10" font-size="5.6" text-anchor="end" fill="#0a0a0a" stroke="#0a0a0a" stroke-width="0.16" >50K</text>
<line x1="390.30" y1="397.90" x2="392.30" y2="397.90" stroke="#333" stroke-width="0.6" />
<text x="389.20" y="399.90" font-size="5.6" text-anchor="end" fill="#0a0a0a" stroke="#0a0a0a" stroke-width="0.16" >100K</text>
<line x1="390.30" y1="384.30" x2="392.30" y2="384.30" stroke="#333" stroke-width="0.6" />
<text x="389.20" y="386.30" font-size="5.6" text-anchor="end" fill="#0a0a0a" stroke="#0a0a0a" stroke-width="0.16" >150K</text>
<line x1="391.30" y1="423.46" x2="392.30" y2="423.46" stroke="#666" stroke-width="0.35" />
<line x1="391.30" y1="420.72" x2="392.30" y2="420.72" stroke="#666" stroke-width="0.35" />
<line x1="391.30" y1="417.98" x2="392.30" y2="417.98" stroke="#666" stroke-width="0.35" />
<line x1="391.30" y1="415.24" x2="392.30" y2="415.24" stroke="#666" stroke-width="0.35" />
<line x1="391.30" y1="412.50" x2="392.30" y2="412.50" stroke="#666" stroke-width="0.35" />
<line x1="391.30" y1="409.76" x2="392.30" y2="409.76" stroke="#666" stroke-width="0.35" />
<line x1="391.30" y1="407.02" x2="392.30" y2="407.02" stroke="#666" stroke-width="0.35" />
<line x1="391.30" y1="404.28" x2="392.30" y2="404.28" stroke="#666" stroke-width="0.35" />
<line x1="391.30" y1="401.54" x2="392.30" y2="401.54" stroke="#666" stroke-width="0.35" />
<line x1="391.30" y1="398.80" x2="392.30" y2="398.80" stroke="#666" stroke-width="0.35" />
<line x1="391.30" y1="396.06" x2="392.30" y2="396.06" stroke="#666" stroke-width="0.35" />
<line x1="391.30" y1="393.32" x2="392.30" y2="393.32" stroke="#666" stroke-width="0.35" />
<line x1="391.30" y1="390.58" x2="392.30" y2="390.58" stroke="#666" stroke-width="0.35" />
<line x1="391.30" y1="387.84" x2="392.30" y2="387.84" stroke="#666" stroke-width="0.35" />
<line x1="391.30" y1="385.10" x2="392.30" y2="385.10" stroke="#666" stroke-width="0.35" />
<line x1="391.30" y1="382.36" x2="392.30" y2="382.36" stroke="#666" stroke-width="0.35" />
<line x1="391.30" y1="379.62" x2="392.30" y2="379.62" stroke="#666" stroke-width="0.35" />
<line x1="391.30" y1="376.88" x2="392.30" y2="376.88" stroke="#666" stroke-width="0.35" />
<line x1="391.30" y1="374.14" x2="392.30" y2="374.14" stroke="#666" stroke-width="0.35" />
<line x1="401.40" y1="426.20" x2="401.40" y2="428.00" stroke="#333" stroke-width="0.6" />
<text x="401.40" y="437.00" font-size="5.8" text-anchor="middle" fill="#0a0a0a" stroke="#0a0a0a" stroke-width="0.16" >0</text>
<line x1="425.80" y1="426.20" x2="425.80" y2="428.00" stroke="#333" stroke-width="0.6" />
<text x="425.80" y="437.00" font-size="5.8" text-anchor="middle" fill="#0a0a0a" stroke="#0a0a0a" stroke-width="0.16" >10<tspan font-size="3.6" dy="-2.2">3</tspan><tspan dy="2.2"></tspan></text>
<line x1="440.40" y1="426.20" x2="440.40" y2="428.00" stroke="#333" stroke-width="0.6" />
<text x="440.40" y="437.00" font-size="5.8" text-anchor="middle" fill="#0a0a0a" stroke="#0a0a0a" stroke-width="0.16" >10<tspan font-size="3.6" dy="-2.2">4</tspan><tspan dy="2.2"></tspan></text>
<line x1="395.36" y1="426.20" x2="395.36" y2="427.20" stroke="#555" stroke-width="0.35" />
<line x1="398.41" y1="426.20" x2="398.41" y2="427.20" stroke="#555" stroke-width="0.35" />
<line x1="401.47" y1="426.20" x2="401.47" y2="427.20" stroke="#555" stroke-width="0.35" />
<line x1="404.52" y1="426.20" x2="404.52" y2="427.20" stroke="#555" stroke-width="0.35" />
<line x1="407.58" y1="426.20" x2="407.58" y2="427.20" stroke="#555" stroke-width="0.35" />
<line x1="410.63" y1="426.20" x2="410.63" y2="427.20" stroke="#555" stroke-width="0.35" />
<line x1="413.69" y1="426.20" x2="413.69" y2="427.20" stroke="#555" stroke-width="0.35" />
<line x1="416.74" y1="426.20" x2="416.74" y2="427.20" stroke="#555" stroke-width="0.35" />
<line x1="419.80" y1="426.20" x2="419.80" y2="427.20" stroke="#555" stroke-width="0.35" />
<line x1="422.86" y1="426.20" x2="422.86" y2="427.20" stroke="#555" stroke-width="0.35" />
<line x1="425.91" y1="426.20" x2="425.91" y2="427.20" stroke="#555" stroke-width="0.35" />
<line x1="428.97" y1="426.20" x2="428.97" y2="427.20" stroke="#555" stroke-width="0.35" />
<line x1="432.02" y1="426.20" x2="432.02" y2="427.20" stroke="#555" stroke-width="0.35" />
<line x1="435.08" y1="426.20" x2="435.08" y2="427.20" stroke="#555" stroke-width="0.35" />
<line x1="438.13" y1="426.20" x2="438.13" y2="427.20" stroke="#555" stroke-width="0.35" />
<line x1="441.19" y1="426.20" x2="441.19" y2="427.20" stroke="#555" stroke-width="0.35" />
<line x1="444.24" y1="426.20" x2="444.24" y2="427.20" stroke="#555" stroke-width="0.35" />
<path d="M410.4,426.2 L410.4,383.4 L441.2,383.4 L441.2,426.2" fill="none" stroke="#555" stroke-width="0.7"/>
<text x="429.60" y="380.60" font-size="6.0" text-anchor="middle" fill="#0a0a0a" stroke="#0a0a0a" stroke-width="0.16" >43.9%</text>
<text x="420.10" y="367.00" font-size="8.4" text-anchor="middle" fill="#0a0a0a" stroke="#0a0a0a" stroke-width="0.16" >S100A8</text>
<text x="0.00" y="0.00" font-size="7.4" text-anchor="middle" font-weight="bold" fill="#0a0a0a" stroke="#0a0a0a" stroke-width="0.32" transform="translate(418.50 453.40) scale(0.717 1)" >Human CD45</text>
<text x="0.00" y="0.00" font-size="6.8" text-anchor="middle" font-weight="bold" fill="#0a0a0a" stroke="#0a0a0a" stroke-width="0.32" transform="translate(285.60 399.70) rotate(-90) scale(0.676 1)" >SSC-A</text>
<line x1="487.70" y1="372.00" x2="487.70" y2="430.50" stroke="#000" stroke-width="1.25" />
<line x1="487.20" y1="430.00" x2="511.30" y2="430.00" stroke="#000" stroke-width="1.25" />
<line x1="485.50" y1="430.00" x2="487.70" y2="430.00" stroke="#111" stroke-width="0.8" />
<text x="483.60" y="432.00" font-size="5.8" text-anchor="end" fill="#0a0a0a" stroke="#0a0a0a" stroke-width="0.16" >0</text>
<line x1="485.50" y1="418.80" x2="487.70" y2="418.80" stroke="#111" stroke-width="0.8" />
<text x="483.60" y="420.80" font-size="5.8" text-anchor="end" fill="#0a0a0a" stroke="#0a0a0a" stroke-width="0.16" >10</text>
<line x1="485.50" y1="407.60" x2="487.70" y2="407.60" stroke="#111" stroke-width="0.8" />
<text x="483.60" y="409.60" font-size="5.8" text-anchor="end" fill="#0a0a0a" stroke="#0a0a0a" stroke-width="0.16" >20</text>
<line x1="485.50" y1="396.40" x2="487.70" y2="396.40" stroke="#111" stroke-width="0.8" />
<text x="483.60" y="398.40" font-size="5.8" text-anchor="end" fill="#0a0a0a" stroke="#0a0a0a" stroke-width="0.16" >30</text>
<line x1="485.50" y1="385.20" x2="487.70" y2="385.20" stroke="#111" stroke-width="0.8" />
<text x="483.60" y="387.20" font-size="5.8" text-anchor="end" fill="#0a0a0a" stroke="#0a0a0a" stroke-width="0.16" >40</text>
<line x1="485.50" y1="374.00" x2="487.70" y2="374.00" stroke="#111" stroke-width="0.8" />
<text x="483.60" y="376.00" font-size="5.8" text-anchor="end" fill="#0a0a0a" stroke="#0a0a0a" stroke-width="0.16" >50</text>
<rect x="489.90" y="397.97" width="7.20" height="32.03" fill="#e9879a" stroke="none" stroke-width="0.6" />
<line x1="493.50" y1="388.78" x2="493.50" y2="407.15" stroke="#d02848" stroke-width="0.6" />
<line x1="491.70" y1="388.78" x2="495.30" y2="388.78" stroke="#d02848" stroke-width="0.6" />
<line x1="491.70" y1="407.15" x2="495.30" y2="407.15" stroke="#d02848" stroke-width="0.6" />
<circle cx="493.50" cy="385.98" r="1.05" fill="#d02848" />
<circle cx="493.50" cy="393.04" r="1.05" fill="#d02848" />
<circle cx="493.50" cy="395.95" r="1.05" fill="#d02848" />
<circle cx="493.50" cy="403.79" r="1.05" fill="#d02848" />
<circle cx="493.50" cy="406.03" r="1.05" fill="#d02848" />
<circle cx="493.50" cy="408.50" r="1.05" fill="#d02848" />
<line x1="493.50" y1="430.00" x2="493.50" y2="432.60" stroke="#111" stroke-width="0.8" />
<rect x="501.90" y="382.96" width="7.50" height="47.04" fill="#86abd0" stroke="none" stroke-width="0.6" />
<line x1="505.65" y1="380.05" x2="505.65" y2="385.87" stroke="#1c4f8a" stroke-width="0.6" />
<line x1="503.85" y1="380.05" x2="507.45" y2="380.05" stroke="#1c4f8a" stroke-width="0.6" />
<line x1="503.85" y1="385.87" x2="507.45" y2="385.87" stroke="#1c4f8a" stroke-width="0.6" />
<circle cx="502.45" cy="381.84" r="1.05" fill="#1c4f8a" />
<circle cx="505.65" cy="381.84" r="1.05" fill="#1c4f8a" />
<circle cx="509.25" cy="381.84" r="1.05" fill="#1c4f8a" />
<circle cx="505.65" cy="388.34" r="1.05" fill="#1c4f8a" />
<line x1="505.65" y1="430.00" x2="505.65" y2="432.60" stroke="#111" stroke-width="0.8" />
<line x1="492.60" y1="375.20" x2="505.00" y2="375.20" stroke="#333" stroke-width="0.6" />
<text x="498.80" y="374.20" font-size="5.4" text-anchor="middle" fill="#333" stroke="#333" stroke-width="0.16" >*</text>
<text x="0.00" y="0.00" font-size="5.6" text-anchor="end" fill="#0a0a0a" stroke="#0a0a0a" stroke-width="0.16" transform="translate(494.90 440.30) rotate(-45)" >Control</text>
<text x="0.00" y="0.00" font-size="5.6" text-anchor="end" fill="#0a0a0a" stroke="#0a0a0a" stroke-width="0.16" transform="translate(506.40 440.30) rotate(-45)" >S100A8</text>
<text x="0.00" y="0.00" font-size="6.6" text-anchor="middle" font-weight="bold" fill="#0a0a0a" stroke="#0a0a0a" stroke-width="0.32" transform="translate(466.60 398.00) rotate(-90) scale(0.732 1)" >Human CD45<tspan font-size="3.8" dy="-2.2">+</tspan><tspan dy="2.2"> cells</tspan></text>
<text x="0.00" y="0.00" font-size="7.8" text-anchor="middle" fill="#0a0a0a" stroke="#0a0a0a" stroke-width="0.16" transform="translate(499.00 365.00) scale(0.961 1)" >SP</text>
<line x1="288.80" y1="384.10" x2="288.80" y2="441.80" stroke="#000" stroke-width="1.3" />
<line x1="288.15" y1="441.80" x2="437.80" y2="441.80" stroke="#000" stroke-width="1.3" />
<path d="M288.8,378.0 L286.1,384.6 L291.5,384.6 Z" fill="#111"/>
<path d="M443.9,441.8 L437.29999999999995,439.1 L437.29999999999995,444.5 Z" fill="#111"/>
<rect x="0.5" y="0.5" width="519" height="462" fill="none" stroke="#3a3a3a" stroke-width="1"/></g></svg>
</body></html>
